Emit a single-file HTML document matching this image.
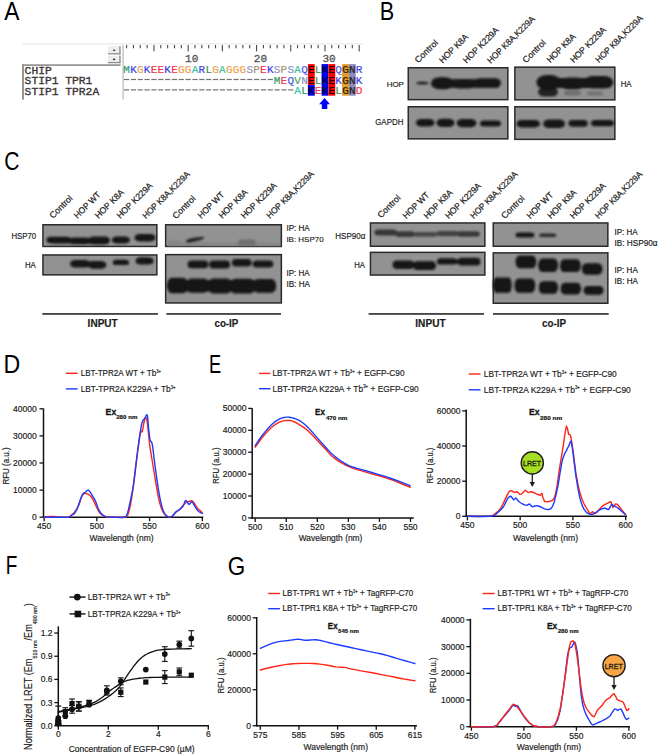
<!DOCTYPE html>
<html><head><meta charset="utf-8"><style>
html,body{margin:0;padding:0;background:#fff;}
svg{display:block;}
svg text{font-family:"Liberation Sans", sans-serif;}
</style></head><body>
<svg width="660" height="756" viewBox="0 0 660 756">
<defs><filter id="bl" x="-20%" y="-50%" width="140%" height="200%"><feGaussianBlur stdDeviation="0.9"/></filter></defs>
<rect width="660" height="756" fill="#fff"/>
<g transform="matrix(0.8754,0,0,0.9889,4.200,20.200)"><text x="0" y="0" font-size="26" fill="#000"  >A</text></g>
<rect x="22.00" y="43.40" width="341.00" height="1.00" fill="#e4e4e4" />
<rect x="108.00" y="46.20" width="12.50" height="8.20" fill="#ededed" />
<rect x="119.30" y="46.20" width="1.30" height="8.20" fill="#8a8a8a" />
<rect x="108.00" y="53.20" width="12.50" height="1.20" fill="#8a8a8a" />
<ellipse cx="114.1" cy="50.30" rx="1.3" ry="0.8" fill="#333"/>
<rect x="108.00" y="55.60" width="12.50" height="7.60" fill="#ededed" />
<rect x="119.30" y="55.60" width="1.30" height="7.60" fill="#8a8a8a" />
<rect x="108.00" y="62.00" width="12.50" height="1.20" fill="#8a8a8a" />
<ellipse cx="114.1" cy="59.40" rx="1.3" ry="0.8" fill="#333"/>
<rect x="22.10" y="64.30" width="98.50" height="1.60" fill="#8c8c8c" />
<rect x="22.10" y="64.30" width="1.80" height="35.40" fill="#8c8c8c" />
<rect x="122.40" y="45.00" width="1.40" height="54.50" fill="#c4c4c4" />
<text x="27.99" y="73.80" font-size="11.3" fill="#3a3434" text-anchor="middle" style="font-family:'Liberation Mono', monospace" stroke="#3a3434" stroke-width="0.35">C</text>
<text x="34.77" y="73.80" font-size="11.3" fill="#3a3434" text-anchor="middle" style="font-family:'Liberation Mono', monospace" stroke="#3a3434" stroke-width="0.35">H</text>
<text x="41.55" y="73.80" font-size="11.3" fill="#3a3434" text-anchor="middle" style="font-family:'Liberation Mono', monospace" stroke="#3a3434" stroke-width="0.35">I</text>
<text x="48.33" y="73.80" font-size="11.3" fill="#3a3434" text-anchor="middle" style="font-family:'Liberation Mono', monospace" stroke="#3a3434" stroke-width="0.35">P</text>
<text x="27.99" y="84.30" font-size="11.3" fill="#3a3434" text-anchor="middle" style="font-family:'Liberation Mono', monospace" stroke="#3a3434" stroke-width="0.35">S</text>
<text x="34.77" y="84.30" font-size="11.3" fill="#3a3434" text-anchor="middle" style="font-family:'Liberation Mono', monospace" stroke="#3a3434" stroke-width="0.35">T</text>
<text x="41.55" y="84.30" font-size="11.3" fill="#3a3434" text-anchor="middle" style="font-family:'Liberation Mono', monospace" stroke="#3a3434" stroke-width="0.35">I</text>
<text x="48.33" y="84.30" font-size="11.3" fill="#3a3434" text-anchor="middle" style="font-family:'Liberation Mono', monospace" stroke="#3a3434" stroke-width="0.35">P</text>
<text x="55.11" y="84.30" font-size="11.3" fill="#3a3434" text-anchor="middle" style="font-family:'Liberation Mono', monospace" stroke="#3a3434" stroke-width="0.35">1</text>
<text x="68.67" y="84.30" font-size="11.3" fill="#3a3434" text-anchor="middle" style="font-family:'Liberation Mono', monospace" stroke="#3a3434" stroke-width="0.35">T</text>
<text x="75.45" y="84.30" font-size="11.3" fill="#3a3434" text-anchor="middle" style="font-family:'Liberation Mono', monospace" stroke="#3a3434" stroke-width="0.35">P</text>
<text x="82.23" y="84.30" font-size="11.3" fill="#3a3434" text-anchor="middle" style="font-family:'Liberation Mono', monospace" stroke="#3a3434" stroke-width="0.35">R</text>
<text x="89.01" y="84.30" font-size="11.3" fill="#3a3434" text-anchor="middle" style="font-family:'Liberation Mono', monospace" stroke="#3a3434" stroke-width="0.35">1</text>
<text x="27.99" y="94.60" font-size="11.3" fill="#3a3434" text-anchor="middle" style="font-family:'Liberation Mono', monospace" stroke="#3a3434" stroke-width="0.35">S</text>
<text x="34.77" y="94.60" font-size="11.3" fill="#3a3434" text-anchor="middle" style="font-family:'Liberation Mono', monospace" stroke="#3a3434" stroke-width="0.35">T</text>
<text x="41.55" y="94.60" font-size="11.3" fill="#3a3434" text-anchor="middle" style="font-family:'Liberation Mono', monospace" stroke="#3a3434" stroke-width="0.35">I</text>
<text x="48.33" y="94.60" font-size="11.3" fill="#3a3434" text-anchor="middle" style="font-family:'Liberation Mono', monospace" stroke="#3a3434" stroke-width="0.35">P</text>
<text x="55.11" y="94.60" font-size="11.3" fill="#3a3434" text-anchor="middle" style="font-family:'Liberation Mono', monospace" stroke="#3a3434" stroke-width="0.35">1</text>
<text x="68.67" y="94.60" font-size="11.3" fill="#3a3434" text-anchor="middle" style="font-family:'Liberation Mono', monospace" stroke="#3a3434" stroke-width="0.35">T</text>
<text x="75.45" y="94.60" font-size="11.3" fill="#3a3434" text-anchor="middle" style="font-family:'Liberation Mono', monospace" stroke="#3a3434" stroke-width="0.35">P</text>
<text x="82.23" y="94.60" font-size="11.3" fill="#3a3434" text-anchor="middle" style="font-family:'Liberation Mono', monospace" stroke="#3a3434" stroke-width="0.35">R</text>
<text x="89.01" y="94.60" font-size="11.3" fill="#3a3434" text-anchor="middle" style="font-family:'Liberation Mono', monospace" stroke="#3a3434" stroke-width="0.35">2</text>
<text x="95.79" y="94.60" font-size="11.3" fill="#3a3434" text-anchor="middle" style="font-family:'Liberation Mono', monospace" stroke="#3a3434" stroke-width="0.35">A</text>
<rect x="126.05" y="45.00" width="1.10" height="3.30" fill="#4a4a4a" />
<rect x="132.89" y="45.00" width="1.10" height="3.30" fill="#4a4a4a" />
<rect x="139.73" y="45.00" width="1.10" height="3.30" fill="#4a4a4a" />
<rect x="146.57" y="45.00" width="1.10" height="3.30" fill="#4a4a4a" />
<rect x="153.41" y="45.00" width="1.10" height="6.40" fill="#4a4a4a" />
<rect x="160.25" y="45.00" width="1.10" height="3.30" fill="#4a4a4a" />
<rect x="167.09" y="45.00" width="1.10" height="3.30" fill="#4a4a4a" />
<rect x="173.93" y="45.00" width="1.10" height="3.30" fill="#4a4a4a" />
<rect x="180.77" y="45.00" width="1.10" height="3.30" fill="#4a4a4a" />
<rect x="187.61" y="45.00" width="1.10" height="6.40" fill="#4a4a4a" />
<rect x="194.45" y="45.00" width="1.10" height="3.30" fill="#4a4a4a" />
<rect x="201.29" y="45.00" width="1.10" height="3.30" fill="#4a4a4a" />
<rect x="208.13" y="45.00" width="1.10" height="3.30" fill="#4a4a4a" />
<rect x="214.97" y="45.00" width="1.10" height="3.30" fill="#4a4a4a" />
<rect x="221.81" y="45.00" width="1.10" height="6.40" fill="#4a4a4a" />
<rect x="228.65" y="45.00" width="1.10" height="3.30" fill="#4a4a4a" />
<rect x="235.49" y="45.00" width="1.10" height="3.30" fill="#4a4a4a" />
<rect x="242.33" y="45.00" width="1.10" height="3.30" fill="#4a4a4a" />
<rect x="249.17" y="45.00" width="1.10" height="3.30" fill="#4a4a4a" />
<rect x="256.01" y="45.00" width="1.10" height="6.40" fill="#4a4a4a" />
<rect x="262.85" y="45.00" width="1.10" height="3.30" fill="#4a4a4a" />
<rect x="269.69" y="45.00" width="1.10" height="3.30" fill="#4a4a4a" />
<rect x="276.53" y="45.00" width="1.10" height="3.30" fill="#4a4a4a" />
<rect x="283.37" y="45.00" width="1.10" height="3.30" fill="#4a4a4a" />
<rect x="290.21" y="45.00" width="1.10" height="6.40" fill="#4a4a4a" />
<rect x="297.05" y="45.00" width="1.10" height="3.30" fill="#4a4a4a" />
<rect x="303.89" y="45.00" width="1.10" height="3.30" fill="#4a4a4a" />
<rect x="310.73" y="45.00" width="1.10" height="3.30" fill="#4a4a4a" />
<rect x="317.57" y="45.00" width="1.10" height="3.30" fill="#4a4a4a" />
<rect x="324.41" y="45.00" width="1.10" height="6.40" fill="#4a4a4a" />
<rect x="331.25" y="45.00" width="1.10" height="3.30" fill="#4a4a4a" />
<rect x="338.09" y="45.00" width="1.10" height="3.30" fill="#4a4a4a" />
<rect x="344.93" y="45.00" width="1.10" height="3.30" fill="#4a4a4a" />
<rect x="351.77" y="45.00" width="1.10" height="3.30" fill="#4a4a4a" />
<rect x="358.61" y="45.00" width="1.10" height="6.40" fill="#4a4a4a" />
<text x="191.70" y="61.50" font-size="11.0" fill="#555" text-anchor="middle" style="font-family:'Liberation Mono', monospace" stroke="#555" stroke-width="0.3">10</text>
<text x="260.40" y="61.50" font-size="11.0" fill="#555" text-anchor="middle" style="font-family:'Liberation Mono', monospace" stroke="#555" stroke-width="0.3">20</text>
<text x="329.10" y="61.50" font-size="11.0" fill="#555" text-anchor="middle" style="font-family:'Liberation Mono', monospace" stroke="#555" stroke-width="0.3">30</text>
<rect x="307.88" y="64.10" width="6.84" height="20.80" fill="#ff0000" />
<rect x="307.88" y="84.90" width="6.84" height="10.80" fill="#0000ee" />
<rect x="321.56" y="64.10" width="6.84" height="31.60" fill="#0000ee" />
<rect x="328.40" y="64.10" width="6.84" height="31.60" fill="#ff0000" />
<rect x="342.08" y="64.10" width="6.84" height="31.60" fill="#e89c22" />
<rect x="348.92" y="64.10" width="6.84" height="31.60" fill="#8a8ac6" />
<text x="126.60" y="73.20" font-size="11.0" fill="#2f9a6a" text-anchor="middle" style="font-family:'Liberation Mono', monospace" stroke="#2f9a6a" stroke-width="0.2">M</text>
<text x="133.44" y="73.20" font-size="11.0" fill="#3a3ae8" text-anchor="middle" style="font-family:'Liberation Mono', monospace" stroke="#3a3ae8" stroke-width="0.2">K</text>
<text x="140.28" y="73.20" font-size="11.0" fill="#f0a050" text-anchor="middle" style="font-family:'Liberation Mono', monospace" stroke="#f0a050" stroke-width="0.2">G</text>
<text x="147.12" y="73.20" font-size="11.0" fill="#3a3ae8" text-anchor="middle" style="font-family:'Liberation Mono', monospace" stroke="#3a3ae8" stroke-width="0.2">K</text>
<text x="153.96" y="73.20" font-size="11.0" fill="#f2384c" text-anchor="middle" style="font-family:'Liberation Mono', monospace" stroke="#f2384c" stroke-width="0.2">E</text>
<text x="160.80" y="73.20" font-size="11.0" fill="#f2384c" text-anchor="middle" style="font-family:'Liberation Mono', monospace" stroke="#f2384c" stroke-width="0.2">E</text>
<text x="167.64" y="73.20" font-size="11.0" fill="#3a3ae8" text-anchor="middle" style="font-family:'Liberation Mono', monospace" stroke="#3a3ae8" stroke-width="0.2">K</text>
<text x="174.48" y="73.20" font-size="11.0" fill="#f2384c" text-anchor="middle" style="font-family:'Liberation Mono', monospace" stroke="#f2384c" stroke-width="0.2">E</text>
<text x="181.32" y="73.20" font-size="11.0" fill="#f0a050" text-anchor="middle" style="font-family:'Liberation Mono', monospace" stroke="#f0a050" stroke-width="0.2">G</text>
<text x="188.16" y="73.20" font-size="11.0" fill="#f0a050" text-anchor="middle" style="font-family:'Liberation Mono', monospace" stroke="#f0a050" stroke-width="0.2">G</text>
<text x="195.00" y="73.20" font-size="11.0" fill="#35c4a0" text-anchor="middle" style="font-family:'Liberation Mono', monospace" stroke="#35c4a0" stroke-width="0.2">A</text>
<text x="201.84" y="73.20" font-size="11.0" fill="#4646e6" text-anchor="middle" style="font-family:'Liberation Mono', monospace" stroke="#4646e6" stroke-width="0.2">R</text>
<text x="208.68" y="73.20" font-size="11.0" fill="#3c9650" text-anchor="middle" style="font-family:'Liberation Mono', monospace" stroke="#3c9650" stroke-width="0.2">L</text>
<text x="215.52" y="73.20" font-size="11.0" fill="#f0a050" text-anchor="middle" style="font-family:'Liberation Mono', monospace" stroke="#f0a050" stroke-width="0.2">G</text>
<text x="222.36" y="73.20" font-size="11.0" fill="#35c4a0" text-anchor="middle" style="font-family:'Liberation Mono', monospace" stroke="#35c4a0" stroke-width="0.2">A</text>
<text x="229.20" y="73.20" font-size="11.0" fill="#f0a050" text-anchor="middle" style="font-family:'Liberation Mono', monospace" stroke="#f0a050" stroke-width="0.2">G</text>
<text x="236.04" y="73.20" font-size="11.0" fill="#f0a050" text-anchor="middle" style="font-family:'Liberation Mono', monospace" stroke="#f0a050" stroke-width="0.2">G</text>
<text x="242.88" y="73.20" font-size="11.0" fill="#f0a050" text-anchor="middle" style="font-family:'Liberation Mono', monospace" stroke="#f0a050" stroke-width="0.2">G</text>
<text x="249.72" y="73.20" font-size="11.0" fill="#8a96c8" text-anchor="middle" style="font-family:'Liberation Mono', monospace" stroke="#8a96c8" stroke-width="0.2">S</text>
<text x="256.56" y="73.20" font-size="11.0" fill="#a89272" text-anchor="middle" style="font-family:'Liberation Mono', monospace" stroke="#a89272" stroke-width="0.2">P</text>
<text x="263.40" y="73.20" font-size="11.0" fill="#f2384c" text-anchor="middle" style="font-family:'Liberation Mono', monospace" stroke="#f2384c" stroke-width="0.2">E</text>
<text x="270.24" y="73.20" font-size="11.0" fill="#3a3ae8" text-anchor="middle" style="font-family:'Liberation Mono', monospace" stroke="#3a3ae8" stroke-width="0.2">K</text>
<text x="277.08" y="73.20" font-size="11.0" fill="#8a96c8" text-anchor="middle" style="font-family:'Liberation Mono', monospace" stroke="#8a96c8" stroke-width="0.2">S</text>
<text x="283.92" y="73.20" font-size="11.0" fill="#a89272" text-anchor="middle" style="font-family:'Liberation Mono', monospace" stroke="#a89272" stroke-width="0.2">P</text>
<text x="290.76" y="73.20" font-size="11.0" fill="#8a96c8" text-anchor="middle" style="font-family:'Liberation Mono', monospace" stroke="#8a96c8" stroke-width="0.2">S</text>
<text x="297.60" y="73.20" font-size="11.0" fill="#35c4a0" text-anchor="middle" style="font-family:'Liberation Mono', monospace" stroke="#35c4a0" stroke-width="0.2">A</text>
<text x="304.44" y="73.20" font-size="11.0" fill="#4a5ae0" text-anchor="middle" style="font-family:'Liberation Mono', monospace" stroke="#4a5ae0" stroke-width="0.2">Q</text>
<text x="311.28" y="73.20" font-size="11.0" fill="#1a0000" text-anchor="middle" style="font-family:'Liberation Mono', monospace" stroke="#1a0000" stroke-width="0.2">E</text>
<text x="318.12" y="73.20" font-size="11.0" fill="#3c9650" text-anchor="middle" style="font-family:'Liberation Mono', monospace" stroke="#3c9650" stroke-width="0.2">L</text>
<text x="324.96" y="73.20" font-size="11.0" fill="#00002a" text-anchor="middle" style="font-family:'Liberation Mono', monospace" stroke="#00002a" stroke-width="0.2">K</text>
<text x="331.80" y="73.20" font-size="11.0" fill="#1a0000" text-anchor="middle" style="font-family:'Liberation Mono', monospace" stroke="#1a0000" stroke-width="0.2">E</text>
<text x="338.64" y="73.20" font-size="11.0" fill="#4a5ae0" text-anchor="middle" style="font-family:'Liberation Mono', monospace" stroke="#4a5ae0" stroke-width="0.2">Q</text>
<text x="345.48" y="73.20" font-size="11.0" fill="#2a2010" text-anchor="middle" style="font-family:'Liberation Mono', monospace" stroke="#2a2010" stroke-width="0.2">G</text>
<text x="352.32" y="73.20" font-size="11.0" fill="#2a2010" text-anchor="middle" style="font-family:'Liberation Mono', monospace" stroke="#2a2010" stroke-width="0.2">N</text>
<text x="359.16" y="73.20" font-size="11.0" fill="#4646e6" text-anchor="middle" style="font-family:'Liberation Mono', monospace" stroke="#4646e6" stroke-width="0.2">R</text>
<rect x="124.00" y="78.90" width="5.20" height="1.20" fill="#727272" />
<rect x="130.84" y="78.90" width="5.20" height="1.20" fill="#727272" />
<rect x="137.68" y="78.90" width="5.20" height="1.20" fill="#727272" />
<rect x="144.52" y="78.90" width="5.20" height="1.20" fill="#727272" />
<rect x="151.36" y="78.90" width="5.20" height="1.20" fill="#727272" />
<rect x="158.20" y="78.90" width="5.20" height="1.20" fill="#727272" />
<rect x="165.04" y="78.90" width="5.20" height="1.20" fill="#727272" />
<rect x="171.88" y="78.90" width="5.20" height="1.20" fill="#727272" />
<rect x="178.72" y="78.90" width="5.20" height="1.20" fill="#727272" />
<rect x="185.56" y="78.90" width="5.20" height="1.20" fill="#727272" />
<rect x="192.40" y="78.90" width="5.20" height="1.20" fill="#727272" />
<rect x="199.24" y="78.90" width="5.20" height="1.20" fill="#727272" />
<rect x="206.08" y="78.90" width="5.20" height="1.20" fill="#727272" />
<rect x="212.92" y="78.90" width="5.20" height="1.20" fill="#727272" />
<rect x="219.76" y="78.90" width="5.20" height="1.20" fill="#727272" />
<rect x="226.60" y="78.90" width="5.20" height="1.20" fill="#727272" />
<rect x="233.44" y="78.90" width="5.20" height="1.20" fill="#727272" />
<rect x="240.28" y="78.90" width="5.20" height="1.20" fill="#727272" />
<rect x="247.12" y="78.90" width="5.20" height="1.20" fill="#727272" />
<rect x="253.96" y="78.90" width="5.20" height="1.20" fill="#727272" />
<rect x="260.80" y="78.90" width="5.20" height="1.20" fill="#727272" />
<rect x="267.64" y="78.90" width="5.20" height="1.20" fill="#727272" />
<text x="277.08" y="83.60" font-size="11.0" fill="#2f9a6a" text-anchor="middle" style="font-family:'Liberation Mono', monospace" stroke="#2f9a6a" stroke-width="0.2">M</text>
<text x="283.92" y="83.60" font-size="11.0" fill="#f2384c" text-anchor="middle" style="font-family:'Liberation Mono', monospace" stroke="#f2384c" stroke-width="0.2">E</text>
<text x="290.76" y="83.60" font-size="11.0" fill="#4a5ae0" text-anchor="middle" style="font-family:'Liberation Mono', monospace" stroke="#4a5ae0" stroke-width="0.2">Q</text>
<text x="297.60" y="83.60" font-size="11.0" fill="#4f9f5f" text-anchor="middle" style="font-family:'Liberation Mono', monospace" stroke="#4f9f5f" stroke-width="0.2">V</text>
<text x="304.44" y="83.60" font-size="11.0" fill="#8a92c0" text-anchor="middle" style="font-family:'Liberation Mono', monospace" stroke="#8a92c0" stroke-width="0.2">N</text>
<text x="311.28" y="83.60" font-size="11.0" fill="#1a0000" text-anchor="middle" style="font-family:'Liberation Mono', monospace" stroke="#1a0000" stroke-width="0.2">E</text>
<text x="318.12" y="83.60" font-size="11.0" fill="#3c9650" text-anchor="middle" style="font-family:'Liberation Mono', monospace" stroke="#3c9650" stroke-width="0.2">L</text>
<text x="324.96" y="83.60" font-size="11.0" fill="#00002a" text-anchor="middle" style="font-family:'Liberation Mono', monospace" stroke="#00002a" stroke-width="0.2">K</text>
<text x="331.80" y="83.60" font-size="11.0" fill="#1a0000" text-anchor="middle" style="font-family:'Liberation Mono', monospace" stroke="#1a0000" stroke-width="0.2">E</text>
<text x="338.64" y="83.60" font-size="11.0" fill="#3a3ae8" text-anchor="middle" style="font-family:'Liberation Mono', monospace" stroke="#3a3ae8" stroke-width="0.2">K</text>
<text x="345.48" y="83.60" font-size="11.0" fill="#2a2010" text-anchor="middle" style="font-family:'Liberation Mono', monospace" stroke="#2a2010" stroke-width="0.2">G</text>
<text x="352.32" y="83.60" font-size="11.0" fill="#2a2010" text-anchor="middle" style="font-family:'Liberation Mono', monospace" stroke="#2a2010" stroke-width="0.2">N</text>
<text x="359.16" y="83.60" font-size="11.0" fill="#3a3ae8" text-anchor="middle" style="font-family:'Liberation Mono', monospace" stroke="#3a3ae8" stroke-width="0.2">K</text>
<rect x="124.00" y="89.30" width="5.20" height="1.20" fill="#727272" />
<rect x="130.84" y="89.30" width="5.20" height="1.20" fill="#727272" />
<rect x="137.68" y="89.30" width="5.20" height="1.20" fill="#727272" />
<rect x="144.52" y="89.30" width="5.20" height="1.20" fill="#727272" />
<rect x="151.36" y="89.30" width="5.20" height="1.20" fill="#727272" />
<rect x="158.20" y="89.30" width="5.20" height="1.20" fill="#727272" />
<rect x="165.04" y="89.30" width="5.20" height="1.20" fill="#727272" />
<rect x="171.88" y="89.30" width="5.20" height="1.20" fill="#727272" />
<rect x="178.72" y="89.30" width="5.20" height="1.20" fill="#727272" />
<rect x="185.56" y="89.30" width="5.20" height="1.20" fill="#727272" />
<rect x="192.40" y="89.30" width="5.20" height="1.20" fill="#727272" />
<rect x="199.24" y="89.30" width="5.20" height="1.20" fill="#727272" />
<rect x="206.08" y="89.30" width="5.20" height="1.20" fill="#727272" />
<rect x="212.92" y="89.30" width="5.20" height="1.20" fill="#727272" />
<rect x="219.76" y="89.30" width="5.20" height="1.20" fill="#727272" />
<rect x="226.60" y="89.30" width="5.20" height="1.20" fill="#727272" />
<rect x="233.44" y="89.30" width="5.20" height="1.20" fill="#727272" />
<rect x="240.28" y="89.30" width="5.20" height="1.20" fill="#727272" />
<rect x="247.12" y="89.30" width="5.20" height="1.20" fill="#727272" />
<rect x="253.96" y="89.30" width="5.20" height="1.20" fill="#727272" />
<rect x="260.80" y="89.30" width="5.20" height="1.20" fill="#727272" />
<rect x="267.64" y="89.30" width="5.20" height="1.20" fill="#727272" />
<rect x="274.48" y="89.30" width="5.20" height="1.20" fill="#727272" />
<rect x="281.32" y="89.30" width="5.20" height="1.20" fill="#727272" />
<rect x="288.16" y="89.30" width="5.20" height="1.20" fill="#727272" />
<text x="297.60" y="94.00" font-size="11.0" fill="#35c4a0" text-anchor="middle" style="font-family:'Liberation Mono', monospace" stroke="#35c4a0" stroke-width="0.2">A</text>
<text x="304.44" y="94.00" font-size="11.0" fill="#3c9650" text-anchor="middle" style="font-family:'Liberation Mono', monospace" stroke="#3c9650" stroke-width="0.2">L</text>
<text x="311.28" y="94.00" font-size="11.0" fill="#00002a" text-anchor="middle" style="font-family:'Liberation Mono', monospace" stroke="#00002a" stroke-width="0.2">K</text>
<text x="318.12" y="94.00" font-size="11.0" fill="#f2384c" text-anchor="middle" style="font-family:'Liberation Mono', monospace" stroke="#f2384c" stroke-width="0.2">E</text>
<text x="324.96" y="94.00" font-size="11.0" fill="#00002a" text-anchor="middle" style="font-family:'Liberation Mono', monospace" stroke="#00002a" stroke-width="0.2">K</text>
<text x="331.80" y="94.00" font-size="11.0" fill="#1a0000" text-anchor="middle" style="font-family:'Liberation Mono', monospace" stroke="#1a0000" stroke-width="0.2">E</text>
<text x="338.64" y="94.00" font-size="11.0" fill="#3c9650" text-anchor="middle" style="font-family:'Liberation Mono', monospace" stroke="#3c9650" stroke-width="0.2">L</text>
<text x="345.48" y="94.00" font-size="11.0" fill="#2a2010" text-anchor="middle" style="font-family:'Liberation Mono', monospace" stroke="#2a2010" stroke-width="0.2">G</text>
<text x="352.32" y="94.00" font-size="11.0" fill="#2a2010" text-anchor="middle" style="font-family:'Liberation Mono', monospace" stroke="#2a2010" stroke-width="0.2">N</text>
<text x="359.16" y="94.00" font-size="11.0" fill="#f2384c" text-anchor="middle" style="font-family:'Liberation Mono', monospace" stroke="#f2384c" stroke-width="0.2">D</text>
<polygon points="324.5,97.9 330,104.2 327.3,104.2 327.3,108.9 321.8,108.9 321.8,104.2 319.1,104.2" fill="#0000ff"/>
<g transform="matrix(0.8357,0,0,0.9722,379.629,19.900)"><text x="0" y="0" font-size="26" fill="#000"  >B</text></g>
<g transform="translate(418.500,63.400) rotate(-45)"><g transform="matrix(1.0090,0,0,1.0000,-0.252,0.000)"><text x="0" y="0" font-size="8.8" fill="#1c1c1c" stroke="#1c1c1c" stroke-width="0.22">Control</text></g></g>
<g transform="translate(443.100,63.300) rotate(-45)"><g transform="matrix(0.9733,0,0,1.0000,-0.487,0.000)"><text x="0" y="0" font-size="8.8" fill="#1c1c1c" stroke="#1c1c1c" stroke-width="0.22">HOP K8A</text></g></g>
<g transform="translate(466.900,63.300) rotate(-45)"><g transform="matrix(0.9735,0,0,1.0000,-0.487,0.000)"><text x="0" y="0" font-size="8.8" fill="#1c1c1c" stroke="#1c1c1c" stroke-width="0.22">HOP K229A</text></g></g>
<g transform="translate(491.200,63.600) rotate(-45)"><g transform="matrix(0.9414,0,0,1.0000,-0.471,0.000)"><text x="0" y="0" font-size="8.8" fill="#1c1c1c" stroke="#1c1c1c" stroke-width="0.22">HOP K8A,K229A</text></g></g>
<g transform="translate(526.300,63.400) rotate(-45)"><g transform="matrix(1.0090,0,0,1.0000,-0.252,0.000)"><text x="0" y="0" font-size="8.8" fill="#1c1c1c" stroke="#1c1c1c" stroke-width="0.22">Control</text></g></g>
<g transform="translate(550.500,62.900) rotate(-45)"><g transform="matrix(0.9733,0,0,1.0000,-0.487,0.000)"><text x="0" y="0" font-size="8.8" fill="#1c1c1c" stroke="#1c1c1c" stroke-width="0.22">HOP K8A</text></g></g>
<g transform="translate(574.100,62.900) rotate(-45)"><g transform="matrix(0.9735,0,0,1.0000,-0.487,0.000)"><text x="0" y="0" font-size="8.8" fill="#1c1c1c" stroke="#1c1c1c" stroke-width="0.22">HOP K229A</text></g></g>
<g transform="translate(599.300,62.900) rotate(-45)"><g transform="matrix(0.9414,0,0,1.0000,-0.471,0.000)"><text x="0" y="0" font-size="8.8" fill="#1c1c1c" stroke="#1c1c1c" stroke-width="0.22">HOP K8A,K229A</text></g></g>
<rect x="407.50" y="67.00" width="101.10" height="33.40" fill="#2a2a2a" />
<rect x="409.00" y="68.50" width="98.10" height="30.40" fill="#929292" />
<g filter="url(#bl)">
<rect x="416.00" y="81.60" width="12.70" height="3.00" rx="6.00" ry="1.50" fill="#202020"/>
<rect x="433.00" y="79.30" width="67.00" height="8.50" rx="3.00" ry="4.25" fill="#141414"/>
<rect x="431.00" y="77.30" width="22.50" height="12.00" rx="8.40" ry="6.00" fill="#141414"/>
<rect x="452.50" y="79.00" width="22.50" height="9.60" rx="6.72" ry="4.80" fill="#141414"/>
<rect x="474.00" y="78.20" width="27.00" height="9.30" rx="6.51" ry="4.65" fill="#141414"/>
</g>
<rect x="407.50" y="106.00" width="101.10" height="33.60" fill="#2a2a2a" />
<rect x="409.00" y="107.50" width="98.10" height="30.60" fill="#929292" />
<g filter="url(#bl)">
<rect x="416.00" y="119.00" width="18.50" height="7.60" rx="5.32" ry="3.80" fill="#141414"/>
<rect x="436.40" y="118.70" width="18.10" height="8.30" rx="5.81" ry="4.15" fill="#141414"/>
<rect x="456.70" y="119.00" width="19.70" height="8.30" rx="5.81" ry="4.15" fill="#141414"/>
<rect x="480.00" y="120.60" width="21.00" height="6.00" rx="4.20" ry="3.00" fill="#141414"/>
</g>
<rect x="514.10" y="66.40" width="101.50" height="34.20" fill="#2a2a2a" />
<rect x="515.60" y="67.90" width="98.50" height="31.20" fill="#929292" />
<g filter="url(#bl)">
<rect x="538.00" y="87.50" width="20.00" height="9.00" rx="6.30" ry="4.50" fill="#222222"/>
<rect x="540.00" y="78.00" width="71.00" height="10.00" rx="3.00" ry="5.00" fill="#141414"/>
<rect x="536.40" y="75.00" width="24.60" height="15.00" rx="10.50" ry="7.50" fill="#141414"/>
<rect x="560.00" y="77.50" width="25.00" height="12.00" rx="8.40" ry="6.00" fill="#141414"/>
<rect x="584.00" y="76.00" width="29.20" height="12.50" rx="8.75" ry="6.25" fill="#141414"/>
<rect x="564.00" y="90.80" width="17.00" height="4.80" rx="3.36" ry="2.40" fill="#6e6e6e"/>
<rect x="587.00" y="91.20" width="16.00" height="4.40" rx="3.08" ry="2.20" fill="#727272"/>
</g>
<rect x="514.10" y="106.00" width="101.50" height="34.10" fill="#2a2a2a" />
<rect x="515.60" y="107.50" width="98.50" height="31.10" fill="#929292" />
<g filter="url(#bl)">
<rect x="516.50" y="120.10" width="23.50" height="7.30" rx="5.11" ry="3.65" fill="#141414"/>
<rect x="543.20" y="119.40" width="21.80" height="8.50" rx="5.95" ry="4.25" fill="#141414"/>
<rect x="568.40" y="120.10" width="19.40" height="6.60" rx="4.62" ry="3.30" fill="#141414"/>
<rect x="591.00" y="120.10" width="23.00" height="6.10" rx="4.27" ry="3.05" fill="#141414"/>
</g>
<g transform="matrix(0.9296,0,0,0.9154,386.635,86.771)"><text x="0" y="0" font-size="8.6" fill="#1c1c1c" stroke="#1c1c1c" stroke-width="0.18">HOP</text></g>
<g transform="matrix(0.9244,0,0,0.9462,375.169,124.763)"><text x="0" y="0" font-size="8.6" fill="#1c1c1c" stroke="#1c1c1c" stroke-width="0.18">GAPDH</text></g>
<g transform="matrix(0.9130,0,0,0.9917,620.643,86.900)"><text x="0" y="0" font-size="8.6" fill="#1c1c1c" stroke="#1c1c1c" stroke-width="0.18">HA</text></g>
<g transform="matrix(0.8121,0,0,1.0000,4.285,169.550)"><text x="0" y="0" font-size="26" fill="#000"  >C</text></g>
<g transform="translate(53.100,218.900) rotate(-45)"><g transform="matrix(1.0090,0,0,1.0000,-0.252,0.000)"><text x="0" y="0" font-size="8.8" fill="#1c1c1c" stroke="#1c1c1c" stroke-width="0.22">Control</text></g></g>
<g transform="translate(77.900,218.700) rotate(-45)"><g transform="matrix(0.9565,0,0,1.0000,-0.478,0.000)"><text x="0" y="0" font-size="8.8" fill="#1c1c1c" stroke="#1c1c1c" stroke-width="0.22">HOP WT</text></g></g>
<g transform="translate(98.800,218.700) rotate(-45)"><g transform="matrix(0.9733,0,0,1.0000,-0.487,0.000)"><text x="0" y="0" font-size="8.8" fill="#1c1c1c" stroke="#1c1c1c" stroke-width="0.22">HOP K8A</text></g></g>
<g transform="translate(120.600,218.700) rotate(-45)"><g transform="matrix(0.9735,0,0,1.0000,-0.487,0.000)"><text x="0" y="0" font-size="8.8" fill="#1c1c1c" stroke="#1c1c1c" stroke-width="0.22">HOP K229A</text></g></g>
<g transform="translate(146.300,219.000) rotate(-45)"><g transform="matrix(0.9414,0,0,1.0000,-0.471,0.000)"><text x="0" y="0" font-size="8.8" fill="#1c1c1c" stroke="#1c1c1c" stroke-width="0.22">HOP K8A,K229A</text></g></g>
<g transform="translate(176.100,219.200) rotate(-45)"><g transform="matrix(1.0090,0,0,1.0000,-0.252,0.000)"><text x="0" y="0" font-size="8.8" fill="#1c1c1c" stroke="#1c1c1c" stroke-width="0.22">Control</text></g></g>
<g transform="translate(201.500,218.700) rotate(-45)"><g transform="matrix(0.9565,0,0,1.0000,-0.478,0.000)"><text x="0" y="0" font-size="8.8" fill="#1c1c1c" stroke="#1c1c1c" stroke-width="0.22">HOP WT</text></g></g>
<g transform="translate(222.600,218.700) rotate(-45)"><g transform="matrix(0.9733,0,0,1.0000,-0.487,0.000)"><text x="0" y="0" font-size="8.8" fill="#1c1c1c" stroke="#1c1c1c" stroke-width="0.22">HOP K8A</text></g></g>
<g transform="translate(244.800,218.700) rotate(-45)"><g transform="matrix(0.9735,0,0,1.0000,-0.487,0.000)"><text x="0" y="0" font-size="8.8" fill="#1c1c1c" stroke="#1c1c1c" stroke-width="0.22">HOP K229A</text></g></g>
<g transform="translate(270.300,218.700) rotate(-45)"><g transform="matrix(0.9414,0,0,1.0000,-0.471,0.000)"><text x="0" y="0" font-size="8.8" fill="#1c1c1c" stroke="#1c1c1c" stroke-width="0.22">HOP K8A,K229A</text></g></g>
<g transform="translate(381.100,218.300) rotate(-45)"><g transform="matrix(1.0090,0,0,1.0000,-0.252,0.000)"><text x="0" y="0" font-size="8.8" fill="#1c1c1c" stroke="#1c1c1c" stroke-width="0.22">Control</text></g></g>
<g transform="translate(406.600,218.900) rotate(-45)"><g transform="matrix(0.9565,0,0,1.0000,-0.478,0.000)"><text x="0" y="0" font-size="8.8" fill="#1c1c1c" stroke="#1c1c1c" stroke-width="0.22">HOP WT</text></g></g>
<g transform="translate(427.500,218.900) rotate(-45)"><g transform="matrix(0.9733,0,0,1.0000,-0.487,0.000)"><text x="0" y="0" font-size="8.8" fill="#1c1c1c" stroke="#1c1c1c" stroke-width="0.22">HOP K8A</text></g></g>
<g transform="translate(449.100,218.900) rotate(-45)"><g transform="matrix(0.9735,0,0,1.0000,-0.487,0.000)"><text x="0" y="0" font-size="8.8" fill="#1c1c1c" stroke="#1c1c1c" stroke-width="0.22">HOP K229A</text></g></g>
<g transform="translate(474.100,218.900) rotate(-45)"><g transform="matrix(0.9414,0,0,1.0000,-0.471,0.000)"><text x="0" y="0" font-size="8.8" fill="#1c1c1c" stroke="#1c1c1c" stroke-width="0.22">HOP K8A,K229A</text></g></g>
<g transform="translate(505.000,219.100) rotate(-45)"><g transform="matrix(1.0090,0,0,1.0000,-0.252,0.000)"><text x="0" y="0" font-size="8.8" fill="#1c1c1c" stroke="#1c1c1c" stroke-width="0.22">Control</text></g></g>
<g transform="translate(530.500,218.900) rotate(-45)"><g transform="matrix(0.9565,0,0,1.0000,-0.478,0.000)"><text x="0" y="0" font-size="8.8" fill="#1c1c1c" stroke="#1c1c1c" stroke-width="0.22">HOP WT</text></g></g>
<g transform="translate(551.300,218.900) rotate(-45)"><g transform="matrix(0.9733,0,0,1.0000,-0.487,0.000)"><text x="0" y="0" font-size="8.8" fill="#1c1c1c" stroke="#1c1c1c" stroke-width="0.22">HOP K8A</text></g></g>
<g transform="translate(573.800,218.900) rotate(-45)"><g transform="matrix(0.9735,0,0,1.0000,-0.487,0.000)"><text x="0" y="0" font-size="8.8" fill="#1c1c1c" stroke="#1c1c1c" stroke-width="0.22">HOP K229A</text></g></g>
<g transform="translate(598.800,218.900) rotate(-45)"><g transform="matrix(0.9414,0,0,1.0000,-0.471,0.000)"><text x="0" y="0" font-size="8.8" fill="#1c1c1c" stroke="#1c1c1c" stroke-width="0.22">HOP K8A,K229A</text></g></g>
<rect x="42.20" y="224.00" width="115.40" height="23.20" fill="#2a2a2a" />
<rect x="43.70" y="225.50" width="112.40" height="20.20" fill="#929292" />
<g filter="url(#bl)">
<rect x="50.00" y="238.60" width="58.00" height="4.80" rx="3.00" ry="2.40" fill="#141414"/>
<rect x="46.40" y="236.80" width="24.60" height="6.50" rx="4.55" ry="3.25" fill="#141414"/>
<rect x="69.00" y="237.60" width="21.00" height="6.60" rx="4.62" ry="3.30" fill="#141414"/>
<rect x="88.00" y="236.40" width="22.00" height="8.10" rx="5.67" ry="4.05" fill="#141414"/>
<rect x="111.80" y="236.40" width="18.20" height="7.20" rx="5.04" ry="3.60" fill="#141414"/>
<rect x="134.50" y="234.00" width="21.00" height="7.40" rx="5.18" ry="3.70" fill="#141414"/>
</g>
<rect x="42.20" y="254.20" width="115.40" height="21.40" fill="#2a2a2a" />
<rect x="43.70" y="255.70" width="112.40" height="18.40" fill="#929292" />
<g filter="url(#bl)">
<rect x="74.00" y="261.60" width="29.00" height="5.40" rx="3.00" ry="2.70" fill="#141414"/>
<rect x="70.00" y="260.00" width="20.00" height="7.60" rx="5.32" ry="3.80" fill="#141414"/>
<rect x="88.00" y="261.00" width="18.40" height="7.80" rx="5.46" ry="3.90" fill="#141414"/>
<rect x="112.70" y="259.80" width="16.30" height="5.20" rx="3.64" ry="2.60" fill="#141414"/>
<rect x="135.50" y="257.30" width="18.10" height="7.20" rx="5.04" ry="3.60" fill="#141414"/>
</g>
<rect x="164.90" y="224.00" width="117.20" height="23.20" fill="#2a2a2a" />
<rect x="166.40" y="225.50" width="114.20" height="20.20" fill="#929292" />
<g filter="url(#bl)"><rect x="168" y="242.5" width="112" height="3.2" fill="#858585"/><ellipse cx="195" cy="239.6" rx="9.6" ry="2.1" transform="rotate(-12 195 239.6)" fill="#2e2e2e"/><ellipse cx="191" cy="240.6" rx="5" ry="1.8" transform="rotate(-12 191 240.6)" fill="#222"/>
<rect x="238.00" y="239.50" width="18.00" height="6.00" rx="4.20" ry="3.00" fill="#6e6e6e"/>
<rect x="167.00" y="240.00" width="13.00" height="5.50" rx="3.85" ry="2.75" fill="#858585"/>
</g>
<rect x="164.90" y="253.90" width="117.20" height="49.80" fill="#2a2a2a" />
<rect x="166.40" y="255.40" width="114.20" height="46.80" fill="#929292" />
<g filter="url(#bl)">
<rect x="187.60" y="260.40" width="20.70" height="7.90" rx="4.00" ry="3.95" fill="#141414"/>
<rect x="209.20" y="260.60" width="20.80" height="7.90" rx="4.00" ry="3.95" fill="#141414"/>
<rect x="231.90" y="259.00" width="19.70" height="7.50" rx="4.00" ry="3.75" fill="#141414"/>
<rect x="252.60" y="260.40" width="20.70" height="7.10" rx="4.00" ry="3.55" fill="#141414"/>
<rect x="170.00" y="280.00" width="103.00" height="11.50" rx="3.00" ry="5.75" fill="#141414"/>
<rect x="166.90" y="277.80" width="21.10" height="15.40" rx="5.00" ry="7.70" fill="#141414"/>
<rect x="186.00" y="278.50" width="23.00" height="14.30" rx="5.00" ry="7.15" fill="#141414"/>
<rect x="208.00" y="278.50" width="24.00" height="15.00" rx="5.00" ry="7.50" fill="#141414"/>
<rect x="230.00" y="278.80" width="25.00" height="14.80" rx="5.00" ry="7.40" fill="#141414"/>
<rect x="253.00" y="279.00" width="23.20" height="13.80" rx="5.00" ry="6.90" fill="#141414"/>
</g>
<rect x="369.70" y="222.20" width="115.90" height="24.80" fill="#2a2a2a" />
<rect x="371.20" y="223.70" width="112.90" height="21.80" fill="#929292" />
<g filter="url(#bl)">
<rect x="374.40" y="229.40" width="22.60" height="6.00" rx="4.20" ry="3.00" fill="#343434"/>
<rect x="395.00" y="231.20" width="20.00" height="5.80" rx="4.06" ry="2.90" fill="#383838"/>
<rect x="414.00" y="232.00" width="23.00" height="4.80" rx="3.36" ry="2.40" fill="#474747"/>
<rect x="436.00" y="231.00" width="23.00" height="5.20" rx="3.64" ry="2.60" fill="#424242"/>
<rect x="457.00" y="231.30" width="23.00" height="5.50" rx="3.85" ry="2.75" fill="#383838"/>
</g>
<rect x="369.70" y="251.60" width="115.90" height="24.20" fill="#2a2a2a" />
<rect x="371.20" y="253.10" width="112.90" height="21.20" fill="#929292" />
<g filter="url(#bl)">
<rect x="396.00" y="262.50" width="37.00" height="5.50" rx="3.00" ry="2.75" fill="#141414"/>
<rect x="440.00" y="259.50" width="38.00" height="4.30" rx="3.00" ry="2.15" fill="#141414"/>
<rect x="392.50" y="260.60" width="21.70" height="8.50" rx="4.00" ry="4.25" fill="#141414"/>
<rect x="413.00" y="261.20" width="23.00" height="8.80" rx="4.00" ry="4.40" fill="#141414"/>
<rect x="437.00" y="258.20" width="19.90" height="6.40" rx="3.50" ry="3.20" fill="#141414"/>
<rect x="457.80" y="257.80" width="22.70" height="7.80" rx="4.00" ry="3.90" fill="#141414"/>
</g>
<rect x="492.50" y="222.20" width="116.10" height="24.80" fill="#2a2a2a" />
<rect x="494.00" y="223.70" width="113.10" height="21.80" fill="#929292" />
<g filter="url(#bl)">
<rect x="515.50" y="232.40" width="18.90" height="5.00" rx="3.50" ry="2.50" fill="#141414"/>
<rect x="539.10" y="233.60" width="17.10" height="3.40" rx="2.38" ry="1.70" fill="#2a2a2a"/>
</g>
<rect x="492.50" y="252.10" width="116.10" height="51.90" fill="#2a2a2a" />
<rect x="494.00" y="253.60" width="113.10" height="48.90" fill="#929292" />
<g filter="url(#bl)">
<rect x="515.50" y="255.60" width="20.80" height="12.60" rx="4.00" ry="6.30" fill="#141414"/>
<rect x="538.20" y="258.50" width="19.80" height="13.50" rx="4.00" ry="6.75" fill="#141414"/>
<rect x="560.00" y="259.30" width="20.80" height="12.70" rx="4.00" ry="6.35" fill="#141414"/>
<rect x="581.80" y="263.30" width="20.80" height="11.50" rx="4.50" ry="5.75" fill="#141414"/>
<rect x="493.00" y="277.50" width="18.70" height="15.30" rx="3.00" ry="7.65" fill="#141414"/>
<rect x="514.50" y="278.40" width="20.80" height="14.40" rx="4.00" ry="7.20" fill="#141414"/>
<rect x="538.80" y="281.20" width="19.20" height="12.60" rx="4.00" ry="6.30" fill="#141414"/>
<rect x="560.50" y="282.80" width="20.50" height="11.70" rx="4.00" ry="5.85" fill="#141414"/>
<rect x="583.60" y="286.00" width="19.90" height="8.70" rx="4.00" ry="4.35" fill="#141414"/>
</g>
<g transform="matrix(0.9057,0,0,0.9462,11.447,238.663)"><text x="0" y="0" font-size="8.6" fill="#1c1c1c" stroke="#1c1c1c" stroke-width="0.18">HSP70</text></g>
<g transform="matrix(0.9130,0,0,1.0250,24.943,267.700)"><text x="0" y="0" font-size="8.6" fill="#1c1c1c" stroke="#1c1c1c" stroke-width="0.18">HA</text></g>
<g transform="matrix(0.9365,0,0,0.9769,335.232,238.556)"><text x="0" y="0" font-size="8.6" fill="#1c1c1c" stroke="#1c1c1c" stroke-width="0.18">HSP90α</text></g>
<g transform="matrix(0.9043,0,0,1.0417,354.248,267.600)"><text x="0" y="0" font-size="8.6" fill="#1c1c1c" stroke="#1c1c1c" stroke-width="0.18">HA</text></g>
<g transform="matrix(0.9402,0,0,0.9750,286.395,231.400)"><text x="0" y="0" font-size="8.6" fill="#1c1c1c" stroke="#1c1c1c" stroke-width="0.18">IP: HA</text></g>
<g transform="matrix(0.9274,0,0,0.9154,286.404,242.371)"><text x="0" y="0" font-size="8.6" fill="#1c1c1c" stroke="#1c1c1c" stroke-width="0.18">IB: HSP70</text></g>
<g transform="matrix(0.9402,0,0,0.9750,286.395,275.700)"><text x="0" y="0" font-size="8.6" fill="#1c1c1c" stroke="#1c1c1c" stroke-width="0.18">IP: HA</text></g>
<g transform="matrix(0.9526,0,0,0.9750,286.386,287.000)"><text x="0" y="0" font-size="8.6" fill="#1c1c1c" stroke="#1c1c1c" stroke-width="0.18">IB: HA</text></g>
<g transform="matrix(0.9361,0,0,0.9917,614.498,235.000)"><text x="0" y="0" font-size="8.6" fill="#1c1c1c" stroke="#1c1c1c" stroke-width="0.18">IP: HA</text></g>
<g transform="matrix(0.9582,0,0,1.0077,614.481,246.448)"><text x="0" y="0" font-size="8.6" fill="#1c1c1c" stroke="#1c1c1c" stroke-width="0.18">IB: HSP90α</text></g>
<g transform="matrix(0.9361,0,0,1.0250,614.498,272.900)"><text x="0" y="0" font-size="8.6" fill="#1c1c1c" stroke="#1c1c1c" stroke-width="0.18">IP: HA</text></g>
<g transform="matrix(0.9443,0,0,1.0250,614.492,284.000)"><text x="0" y="0" font-size="8.6" fill="#1c1c1c" stroke="#1c1c1c" stroke-width="0.18">IB: HA</text></g>
<rect x="42.30" y="313.20" width="115.60" height="1.50" fill="#1a1a1a" />
<rect x="166.40" y="313.20" width="114.60" height="1.50" fill="#1a1a1a" />
<rect x="368.60" y="313.20" width="115.40" height="1.50" fill="#1a1a1a" />
<rect x="493.00" y="313.20" width="115.70" height="1.50" fill="#1a1a1a" />
<g transform="matrix(0.9738,0,0,1.0200,87.613,327.045)"><text x="0" y="0" font-size="10.3" fill="#1c1c1c" font-weight="bold" stroke="#1c1c1c" stroke-width="0.18">INPUT</text></g>
<g transform="matrix(0.9495,0,0,0.9800,214.463,327.155)"><text x="0" y="0" font-size="10.3" fill="#1c1c1c" font-weight="bold" stroke="#1c1c1c" stroke-width="0.18">co-IP</text></g>
<g transform="matrix(0.9803,0,0,1.0733,415.310,327.432)"><text x="0" y="0" font-size="10.3" fill="#1c1c1c" font-weight="bold" stroke="#1c1c1c" stroke-width="0.18">INPUT</text></g>
<g transform="matrix(0.9495,0,0,1.0200,542.063,327.445)"><text x="0" y="0" font-size="10.3" fill="#1c1c1c" font-weight="bold" stroke="#1c1c1c" stroke-width="0.18">co-IP</text></g>
<g transform="matrix(0.8903,0,0,0.9722,3.519,372.800)"><text x="0" y="0" font-size="26" fill="#000"  >D</text></g>
<line x1="65.80" y1="373.30" x2="77.60" y2="373.30" stroke="#ff2414" stroke-width="1.4" />
<g transform="matrix(0.8582,0,0,1.0000,80.656,376.200)"><text x="0" y="0" font-size="9.4" fill="#1c1c1c" stroke="#1c1c1c" stroke-width="0.18">LBT-TPR2A WT + Tb<tspan font-size="4.9" dy="-3.5">3+</tspan><tspan dy="3.5"> </tspan></text></g>
<line x1="65.80" y1="388.90" x2="77.60" y2="388.90" stroke="#1a3cff" stroke-width="1.4" />
<g transform="matrix(0.8887,0,0,1.0000,80.633,392.000)"><text x="0" y="0" font-size="9.4" fill="#1c1c1c" stroke="#1c1c1c" stroke-width="0.18">LBT-TPR2A K229A + Tb<tspan font-size="4.9" dy="-3.5">3+</tspan><tspan dy="3.5"> </tspan></text></g>
<line x1="43.50" y1="408.60" x2="43.50" y2="517.95" stroke="#111" stroke-width="1.5" />
<line x1="42.75" y1="517.20" x2="203.30" y2="517.20" stroke="#111" stroke-width="1.5" />
<line x1="39.50" y1="517.20" x2="43.50" y2="517.20" stroke="#111" stroke-width="1.3" />
<text x="36.70" y="520.10" font-size="8.5" fill="#1c1c1c" text-anchor="end" stroke="#1c1c1c" stroke-width="0.18">0</text>
<line x1="39.50" y1="490.10" x2="43.50" y2="490.10" stroke="#111" stroke-width="1.3" />
<text x="36.70" y="493.00" font-size="8.5" fill="#1c1c1c" text-anchor="end" stroke="#1c1c1c" stroke-width="0.18">10000</text>
<line x1="39.50" y1="463.00" x2="43.50" y2="463.00" stroke="#111" stroke-width="1.3" />
<text x="36.70" y="465.90" font-size="8.5" fill="#1c1c1c" text-anchor="end" stroke="#1c1c1c" stroke-width="0.18">20000</text>
<line x1="39.50" y1="435.90" x2="43.50" y2="435.90" stroke="#111" stroke-width="1.3" />
<text x="36.70" y="438.80" font-size="8.5" fill="#1c1c1c" text-anchor="end" stroke="#1c1c1c" stroke-width="0.18">30000</text>
<line x1="39.50" y1="408.80" x2="43.50" y2="408.80" stroke="#111" stroke-width="1.3" />
<text x="36.70" y="411.70" font-size="8.5" fill="#1c1c1c" text-anchor="end" stroke="#1c1c1c" stroke-width="0.18">40000</text>
<line x1="44.10" y1="517.20" x2="44.10" y2="521.20" stroke="#111" stroke-width="1.3" />
<text x="44.10" y="529.30" font-size="8.5" fill="#1c1c1c" text-anchor="middle" stroke="#1c1c1c" stroke-width="0.18">450</text>
<line x1="96.84" y1="517.20" x2="96.84" y2="521.20" stroke="#111" stroke-width="1.3" />
<text x="96.84" y="529.30" font-size="8.5" fill="#1c1c1c" text-anchor="middle" stroke="#1c1c1c" stroke-width="0.18">500</text>
<line x1="149.57" y1="517.20" x2="149.57" y2="521.20" stroke="#111" stroke-width="1.3" />
<text x="149.57" y="529.30" font-size="8.5" fill="#1c1c1c" text-anchor="middle" stroke="#1c1c1c" stroke-width="0.18">550</text>
<line x1="202.30" y1="517.20" x2="202.30" y2="521.20" stroke="#111" stroke-width="1.3" />
<text x="202.30" y="529.30" font-size="8.5" fill="#1c1c1c" text-anchor="middle" stroke="#1c1c1c" stroke-width="0.18">600</text>
<g transform="translate(8.600,484.000) rotate(-90)"><g transform="matrix(0.9223,0,0,1.0000,-0.461,0.000)"><text x="0" y="0" font-size="8.6" fill="#1c1c1c" stroke="#1c1c1c" stroke-width="0.18">RFU (a.u.)</text></g></g>
<g transform="matrix(0.9838,0,0,1.0000,89.500,541.100)"><text x="0" y="0" font-size="8.6" fill="#1c1c1c" stroke="#1c1c1c" stroke-width="0.18">Wavelength (nm)</text></g>
<g transform="matrix(0.8320,0,0,0.9290,105.584,414.768)"><text x="0" y="0" font-size="10.5" fill="#111" font-weight="bold" stroke="#111" stroke-width="0.35">Ex</text></g>
<g transform="matrix(1.0633,0,0,1.0000,116.200,418.800)"><text x="0" y="0" font-size="5.8" fill="#111" font-weight="bold" stroke="#111" stroke-width="0.18">280 nm</text></g>
<polyline points="44.10,517.20 46.33,516.93 49.49,516.57 52.54,516.39 55.08,516.57 57.50,516.93 59.92,517.20 62.50,517.34 65.08,517.39 67.30,517.20 68.94,516.73 70.23,516.02 71.52,515.03 72.97,513.71 74.41,512.11 75.74,510.43 76.89,508.78 77.93,507.04 78.91,505.01 79.82,502.32 80.68,499.32 81.54,496.88 82.40,495.30 83.26,494.27 84.18,493.62 85.19,493.38 86.27,493.53 87.34,493.89 88.40,494.38 89.45,495.07 90.51,496.06 91.56,497.42 92.62,499.07 93.67,500.94 94.73,503.11 95.78,505.49 96.84,507.72 97.85,509.71 98.87,511.56 100.00,513.13 101.33,514.38 102.77,515.35 104.22,516.12 105.43,516.66 106.64,516.99 108.44,517.20 111.29,517.28 114.73,517.24 117.93,517.20 120.70,517.35 123.24,517.50 125.31,517.20 126.68,516.55 127.58,515.44 128.48,513.13 129.53,509.32 130.59,504.30 131.64,498.23 132.69,490.80 133.75,482.32 134.80,473.84 135.88,465.46 136.95,457.08 137.97,449.45 138.93,442.42 139.82,436.15 140.61,431.84 141.19,430.93 141.66,431.99 142.19,431.84 142.87,428.74 143.61,424.45 144.30,421.00 144.86,419.01 145.37,417.86 145.88,417.74 146.39,418.52 146.89,420.31 147.46,423.71 148.12,429.67 148.85,437.22 149.57,444.03 150.23,448.85 150.90,452.91 151.68,457.58 152.66,463.50 153.75,470.03 154.84,476.55 155.90,483.12 156.95,489.70 158.01,495.52 159.06,500.31 160.12,504.34 161.17,507.72 162.23,510.37 163.28,512.37 164.34,513.95 165.35,515.13 166.37,515.90 167.50,516.39 168.83,516.72 170.27,516.78 171.72,516.39 173.12,515.30 174.53,513.77 175.94,512.32 177.38,511.21 178.83,510.18 180.16,509.07 181.29,507.73 182.30,506.29 183.32,505.01 184.38,503.94 185.43,503.03 186.48,502.30 187.56,501.78 188.63,501.45 189.65,501.21 190.57,500.93 191.43,500.74 192.29,500.94 193.14,501.70 194.00,502.86 194.92,504.19 195.98,505.83 197.09,507.64 198.09,509.07 198.87,509.74 199.53,510.02 200.20,510.43 200.98,511.25 201.76,512.19 202.30,512.86" fill="none" stroke="#ff2414" stroke-width="1.4" stroke-linejoin="round" stroke-linecap="round"/>
<polyline points="44.10,517.20 46.72,517.20 50.51,517.20 54.65,517.20 59.37,517.27 64.45,517.34 68.36,517.20 70.19,516.72 70.86,516.03 71.52,515.30 72.58,514.75 73.63,514.17 74.69,513.13 75.74,511.47 76.80,509.35 77.85,506.90 78.94,503.86 80.04,500.49 81.01,497.69 81.80,495.85 82.46,494.59 83.12,493.62 83.81,493.00 84.49,492.68 85.23,492.27 86.11,491.49 87.05,490.61 87.87,490.10 88.42,490.08 88.85,490.42 89.45,491.18 90.39,492.50 91.50,494.24 92.62,496.06 93.67,497.80 94.73,499.63 95.78,501.75 96.80,504.47 97.81,507.49 98.94,510.15 100.27,512.24 101.72,513.97 103.16,515.30 104.53,516.16 105.90,516.62 107.38,516.93 108.83,517.13 110.39,517.18 112.66,517.20 116.37,517.37 120.78,517.51 124.26,517.20 125.94,516.50 126.68,515.34 127.42,513.13 128.48,509.42 129.53,504.65 130.59,499.59 131.64,494.77 132.69,489.65 133.75,483.33 134.80,474.94 135.86,465.36 136.91,456.23 138.01,447.79 139.10,439.81 140.08,433.19 140.84,428.42 141.48,425.01 142.19,422.35 143.03,420.46 143.94,419.33 144.82,418.29 145.69,416.55 146.53,414.90 147.25,415.03 147.75,418.11 148.11,422.97 148.52,427.77 149.00,432.18 149.52,436.52 150.10,439.97 150.74,441.32 151.45,441.77 152.21,444.03 153.01,449.40 153.87,456.58 154.84,464.36 156.00,472.84 157.27,481.92 158.53,490.10 159.75,496.93 160.96,502.85 162.23,507.72 163.55,511.40 164.94,514.03 166.45,515.85 168.16,516.87 170.00,517.08 171.72,516.66 173.20,515.37 174.57,513.46 175.94,511.78 177.38,510.74 178.83,509.93 180.16,509.07 181.32,508.11 182.37,507.08 183.32,505.82 184.12,503.82 184.82,501.58 185.64,500.40 186.71,501.30 187.90,503.26 189.02,504.46 189.96,503.79 190.84,502.37 191.76,501.75 192.78,502.75 193.85,504.55 194.92,506.36 195.94,507.98 196.95,509.59 198.09,510.97 199.57,512.03 201.17,512.85 202.30,513.41" fill="none" stroke="#1a3cff" stroke-width="1.4" stroke-linejoin="round" stroke-linecap="round"/>
<g transform="matrix(0.7018,0,0,0.9722,208.996,372.800)"><text x="0" y="0" font-size="26" fill="#000"  >E</text></g>
<line x1="259.00" y1="373.40" x2="270.50" y2="373.40" stroke="#ff2414" stroke-width="1.4" />
<g transform="matrix(0.8785,0,0,1.0000,272.541,376.200)"><text x="0" y="0" font-size="9.4" fill="#1c1c1c" stroke="#1c1c1c" stroke-width="0.18">LBT-TPR2A WT + Tb<tspan font-size="4.9" dy="-3.5">3+</tspan><tspan dy="3.5"> </tspan>+ EGFP-C90</text></g>
<line x1="259.00" y1="388.70" x2="270.50" y2="388.70" stroke="#1a3cff" stroke-width="1.4" />
<g transform="matrix(0.8943,0,0,1.0000,272.529,391.500)"><text x="0" y="0" font-size="9.4" fill="#1c1c1c" stroke="#1c1c1c" stroke-width="0.18">LBT-TPR2A K229A + Tb<tspan font-size="4.9" dy="-3.5">3+</tspan><tspan dy="3.5"> </tspan>+ EGFP-C90</text></g>
<line x1="252.20" y1="408.30" x2="252.20" y2="518.65" stroke="#111" stroke-width="1.5" />
<line x1="251.45" y1="517.90" x2="413.80" y2="517.90" stroke="#111" stroke-width="1.5" />
<line x1="248.20" y1="517.90" x2="252.20" y2="517.90" stroke="#111" stroke-width="1.3" />
<text x="246.40" y="520.80" font-size="8.5" fill="#1c1c1c" text-anchor="end" stroke="#1c1c1c" stroke-width="0.18">0</text>
<line x1="248.20" y1="496.00" x2="252.20" y2="496.00" stroke="#111" stroke-width="1.3" />
<text x="246.40" y="498.90" font-size="8.5" fill="#1c1c1c" text-anchor="end" stroke="#1c1c1c" stroke-width="0.18">10000</text>
<line x1="248.20" y1="474.10" x2="252.20" y2="474.10" stroke="#111" stroke-width="1.3" />
<text x="246.40" y="477.00" font-size="8.5" fill="#1c1c1c" text-anchor="end" stroke="#1c1c1c" stroke-width="0.18">20000</text>
<line x1="248.20" y1="452.20" x2="252.20" y2="452.20" stroke="#111" stroke-width="1.3" />
<text x="246.40" y="455.10" font-size="8.5" fill="#1c1c1c" text-anchor="end" stroke="#1c1c1c" stroke-width="0.18">30000</text>
<line x1="248.20" y1="430.30" x2="252.20" y2="430.30" stroke="#111" stroke-width="1.3" />
<text x="246.40" y="433.20" font-size="8.5" fill="#1c1c1c" text-anchor="end" stroke="#1c1c1c" stroke-width="0.18">40000</text>
<line x1="248.20" y1="408.40" x2="252.20" y2="408.40" stroke="#111" stroke-width="1.3" />
<text x="246.40" y="411.30" font-size="8.5" fill="#1c1c1c" text-anchor="end" stroke="#1c1c1c" stroke-width="0.18">50000</text>
<line x1="255.20" y1="517.90" x2="255.20" y2="521.90" stroke="#111" stroke-width="1.3" />
<text x="255.20" y="530.00" font-size="8.5" fill="#1c1c1c" text-anchor="middle" stroke="#1c1c1c" stroke-width="0.18">500</text>
<line x1="286.26" y1="517.90" x2="286.26" y2="521.90" stroke="#111" stroke-width="1.3" />
<text x="286.26" y="530.00" font-size="8.5" fill="#1c1c1c" text-anchor="middle" stroke="#1c1c1c" stroke-width="0.18">510</text>
<line x1="317.32" y1="517.90" x2="317.32" y2="521.90" stroke="#111" stroke-width="1.3" />
<text x="317.32" y="530.00" font-size="8.5" fill="#1c1c1c" text-anchor="middle" stroke="#1c1c1c" stroke-width="0.18">520</text>
<line x1="348.38" y1="517.90" x2="348.38" y2="521.90" stroke="#111" stroke-width="1.3" />
<text x="348.38" y="530.00" font-size="8.5" fill="#1c1c1c" text-anchor="middle" stroke="#1c1c1c" stroke-width="0.18">530</text>
<line x1="379.44" y1="517.90" x2="379.44" y2="521.90" stroke="#111" stroke-width="1.3" />
<text x="379.44" y="530.00" font-size="8.5" fill="#1c1c1c" text-anchor="middle" stroke="#1c1c1c" stroke-width="0.18">540</text>
<line x1="410.50" y1="517.90" x2="410.50" y2="521.90" stroke="#111" stroke-width="1.3" />
<text x="410.50" y="530.00" font-size="8.5" fill="#1c1c1c" text-anchor="middle" stroke="#1c1c1c" stroke-width="0.18">550</text>
<g transform="translate(218.900,483.300) rotate(-90)"><g transform="matrix(0.9045,0,0,1.0000,-0.452,0.000)"><text x="0" y="0" font-size="8.6" fill="#1c1c1c" stroke="#1c1c1c" stroke-width="0.18">RFU (a.u.)</text></g></g>
<g transform="matrix(0.9792,0,0,1.0000,298.700,541.300)"><text x="0" y="0" font-size="8.6" fill="#1c1c1c" stroke="#1c1c1c" stroke-width="0.18">Wavelength (nm)</text></g>
<g transform="matrix(0.7600,0,0,0.9419,315.120,415.365)"><text x="0" y="0" font-size="10.5" fill="#111" font-weight="bold" stroke="#111" stroke-width="0.35">Ex</text></g>
<g transform="matrix(1.0785,0,0,1.0000,325.900,419.900)"><text x="0" y="0" font-size="5.8" fill="#111" font-weight="bold" stroke="#111" stroke-width="0.18">470 nm</text></g>
<polyline points="255.20,447.16 256.69,445.07 258.83,442.04 261.25,438.73 263.59,435.77 265.84,433.21 268.17,430.75 270.46,428.50 272.59,426.58 274.53,425.03 276.32,423.80 278.04,422.80 279.74,421.98 281.42,421.33 283.06,420.88 284.67,420.60 286.26,420.44 287.81,420.38 289.33,420.44 290.86,420.67 292.47,421.10 294.15,421.75 295.87,422.59 297.68,423.62 299.62,424.82 301.61,426.06 303.65,427.38 305.93,429.07 308.62,431.39 311.97,434.71 315.83,438.79 319.72,443.00 323.22,446.72 326.05,449.82 328.50,452.61 330.95,455.19 333.78,457.67 337.06,460.09 340.60,462.37 344.37,464.50 348.38,466.43 352.63,468.11 357.12,469.56 361.82,470.92 366.71,472.35 371.83,473.80 377.19,475.24 382.66,476.76 388.14,478.48 394.12,480.69 400.50,483.24 406.21,485.60 410.19,487.24" fill="none" stroke="#ff2414" stroke-width="1.4" stroke-linejoin="round" stroke-linecap="round"/>
<polyline points="255.20,445.63 256.69,443.41 258.83,440.22 261.25,436.72 263.59,433.58 265.84,430.85 268.17,428.21 270.46,425.79 272.59,423.73 274.53,422.10 276.32,420.81 278.04,419.78 279.74,418.91 281.43,418.20 283.08,417.69 284.69,417.36 286.26,417.16 287.74,417.10 289.15,417.20 290.59,417.44 292.16,417.82 293.88,418.27 295.69,418.82 297.61,419.58 299.62,420.66 301.63,421.99 303.67,423.54 305.94,425.51 308.62,428.11 311.97,431.71 315.83,436.10 319.72,440.60 323.22,444.53 326.05,447.68 328.50,450.42 330.95,452.95 333.78,455.48 337.06,458.12 340.60,460.74 344.37,463.19 348.38,465.34 352.63,467.04 357.12,468.41 361.82,469.66 366.71,471.03 371.83,472.53 377.19,474.05 382.66,475.64 388.14,477.38 394.12,479.52 400.50,481.94 406.21,484.17 410.19,485.71" fill="none" stroke="#1a3cff" stroke-width="1.4" stroke-linejoin="round" stroke-linecap="round"/>
<line x1="468.70" y1="374.00" x2="480.50" y2="374.00" stroke="#ff2414" stroke-width="1.4" />
<g transform="matrix(0.8846,0,0,1.0000,483.837,377.000)"><text x="0" y="0" font-size="9.4" fill="#1c1c1c" stroke="#1c1c1c" stroke-width="0.18">LBT-TPR2A WT + Tb<tspan font-size="4.9" dy="-3.5">3+</tspan><tspan dy="3.5"> </tspan>+ EGFP-C90</text></g>
<line x1="468.70" y1="389.80" x2="480.50" y2="389.80" stroke="#1a3cff" stroke-width="1.4" />
<g transform="matrix(0.8992,0,0,1.0000,483.826,392.500)"><text x="0" y="0" font-size="9.4" fill="#1c1c1c" stroke="#1c1c1c" stroke-width="0.18">LBT-TPR2A K229A + Tb<tspan font-size="4.9" dy="-3.5">3+</tspan><tspan dy="3.5"> </tspan>+ EGFP-C90</text></g>
<line x1="466.20" y1="409.60" x2="466.20" y2="517.05" stroke="#111" stroke-width="1.5" />
<line x1="465.45" y1="516.30" x2="627.00" y2="516.30" stroke="#111" stroke-width="1.5" />
<line x1="462.20" y1="516.30" x2="466.20" y2="516.30" stroke="#111" stroke-width="1.3" />
<text x="460.40" y="519.20" font-size="8.5" fill="#1c1c1c" text-anchor="end" stroke="#1c1c1c" stroke-width="0.18">0</text>
<line x1="462.20" y1="481.17" x2="466.20" y2="481.17" stroke="#111" stroke-width="1.3" />
<text x="460.40" y="484.07" font-size="8.5" fill="#1c1c1c" text-anchor="end" stroke="#1c1c1c" stroke-width="0.18">20000</text>
<line x1="462.20" y1="446.03" x2="466.20" y2="446.03" stroke="#111" stroke-width="1.3" />
<text x="460.40" y="448.93" font-size="8.5" fill="#1c1c1c" text-anchor="end" stroke="#1c1c1c" stroke-width="0.18">40000</text>
<line x1="462.20" y1="410.90" x2="466.20" y2="410.90" stroke="#111" stroke-width="1.3" />
<text x="460.40" y="413.80" font-size="8.5" fill="#1c1c1c" text-anchor="end" stroke="#1c1c1c" stroke-width="0.18">60000</text>
<line x1="467.40" y1="516.30" x2="467.40" y2="520.30" stroke="#111" stroke-width="1.3" />
<text x="467.40" y="528.40" font-size="8.5" fill="#1c1c1c" text-anchor="middle" stroke="#1c1c1c" stroke-width="0.18">450</text>
<line x1="520.16" y1="516.30" x2="520.16" y2="520.30" stroke="#111" stroke-width="1.3" />
<text x="520.16" y="528.40" font-size="8.5" fill="#1c1c1c" text-anchor="middle" stroke="#1c1c1c" stroke-width="0.18">500</text>
<line x1="572.93" y1="516.30" x2="572.93" y2="520.30" stroke="#111" stroke-width="1.3" />
<text x="572.93" y="528.40" font-size="8.5" fill="#1c1c1c" text-anchor="middle" stroke="#1c1c1c" stroke-width="0.18">550</text>
<line x1="625.69" y1="516.30" x2="625.69" y2="520.30" stroke="#111" stroke-width="1.3" />
<text x="625.69" y="528.40" font-size="8.5" fill="#1c1c1c" text-anchor="middle" stroke="#1c1c1c" stroke-width="0.18">600</text>
<g transform="translate(432.900,483.000) rotate(-90)"><g transform="matrix(0.8943,0,0,1.0000,-0.447,0.000)"><text x="0" y="0" font-size="8.6" fill="#1c1c1c" stroke="#1c1c1c" stroke-width="0.18">RFU (a.u.)</text></g></g>
<g transform="matrix(1.0008,0,0,1.0000,512.900,541.300)"><text x="0" y="0" font-size="8.6" fill="#1c1c1c" stroke="#1c1c1c" stroke-width="0.18">Wavelength (nm)</text></g>
<g transform="matrix(0.8160,0,0,0.9032,529.092,415.074)"><text x="0" y="0" font-size="10.5" fill="#111" font-weight="bold" stroke="#111" stroke-width="0.35">Ex</text></g>
<g transform="matrix(1.1089,0,0,1.0000,540.000,419.900)"><text x="0" y="0" font-size="5.8" fill="#111" font-weight="bold" stroke="#111" stroke-width="0.18">280 nm</text></g>
<polyline points="467.40,516.30 478.12,516.47 489.56,516.30 493.45,515.27 495.26,513.56 498.10,511.17 500.75,508.10 502.89,504.15 504.86,499.87 507.01,495.33 508.98,491.71 510.44,490.65 511.72,490.83 513.09,491.66 514.47,492.50 515.84,492.04 517.21,491.71 518.53,493.10 519.85,494.41 521.21,494.07 522.59,493.04 523.96,491.45 525.34,490.30 526.71,491.28 528.08,492.50 529.37,492.16 530.82,491.71 532.88,492.24 534.94,493.04 536.40,493.76 537.68,494.41 539.14,495.01 540.43,495.22 541.12,493.91 541.80,493.46 542.86,497.24 544.44,501.25 547.09,501.90 549.92,501.25 552.15,500.59 554.04,498.56 555.50,494.09 556.78,487.56 558.10,478.66 559.53,468.39 561.29,457.56 563.12,446.56 564.84,434.40 566.39,426.01 567.58,428.77 568.60,434.26 569.52,434.36 570.50,435.49 571.82,442.46 573.25,452.00 574.54,462.77 575.99,473.88 577.91,484.14 580.00,493.04 582.05,499.29 584.12,504.00 586.30,507.92 588.23,510.82 589.42,512.79 590.34,513.66 591.31,512.71 592.35,511.64 593.59,512.73 595.09,513.56 597.06,511.88 599.21,509.45 601.26,507.27 603.32,505.36 605.42,504.25 607.44,503.44 609.32,502.14 610.92,501.79 611.92,504.77 612.82,507.52 614.14,506.03 615.56,504.00 616.85,504.12 618.31,505.36 620.33,507.95 622.42,510.82 624.32,512.94 625.69,514.39" fill="none" stroke="#ff2414" stroke-width="1.4" stroke-linejoin="round" stroke-linecap="round"/>
<polyline points="467.40,516.30 478.84,516.56 491.14,516.30 495.72,514.59 498.00,512.19 500.92,509.71 503.49,506.73 505.69,502.44 507.61,498.56 509.33,496.68 510.88,496.27 512.32,498.05 513.62,499.87 514.73,498.94 515.84,497.96 517.10,499.31 518.58,501.25 520.50,502.74 522.59,504.00 524.73,504.94 526.71,505.36 528.17,504.59 529.45,504.00 530.74,505.35 532.20,506.73 534.17,506.27 536.31,505.62 538.37,505.97 540.43,506.73 542.48,507.86 544.54,508.92 546.69,509.41 548.66,509.45 550.06,509.15 551.30,508.10 552.58,506.37 554.04,502.60 556.01,494.92 558.16,484.86 560.21,472.01 562.27,460.19 564.42,454.19 566.39,450.60 567.90,447.54 569.13,445.15 570.11,441.89 571.03,441.03 572.09,446.30 573.25,454.82 574.51,465.20 575.99,476.60 577.91,488.23 580.00,498.50 582.05,505.09 584.12,509.45 586.17,512.14 588.23,513.56 590.29,514.37 592.35,514.39 594.41,513.51 596.46,512.19 598.52,510.77 600.58,509.45 602.64,508.52 604.69,508.10 606.84,509.00 608.81,509.45 610.22,506.97 611.45,504.53 612.81,504.98 614.19,506.18 615.48,506.61 616.94,507.27 618.91,508.89 621.05,510.82 623.37,512.82 625.17,514.39" fill="none" stroke="#1a3cff" stroke-width="1.4" stroke-linejoin="round" stroke-linecap="round"/>
<circle cx="532.30" cy="462.90" r="11.1" fill="#a6df22" stroke="#1e1e1e" stroke-width="1.4"/>
<g transform="matrix(0.8900,0,0,1.0000,522.955,465.750)"><text x="0" y="0" font-size="8.0" fill="#1a1a1a" stroke="#1a1a1a" stroke-width="0.3">LRET</text></g>
<line x1="532.30" y1="474.00" x2="532.30" y2="483.50" stroke="#1e1e1e" stroke-width="1.3" />
<polygon points="529.60,482.00 535.00,482.00 532.30,487.00" fill="#1e1e1e"/>
<g transform="matrix(0.7294,0,0,0.9944,5.741,574.400)"><text x="0" y="0" font-size="26" fill="#000"  >F</text></g>
<line x1="69.50" y1="597.10" x2="85.50" y2="597.10" stroke="#111" stroke-width="1.4" />
<circle cx="77.3" cy="597.1" r="3.4" fill="#111"/>
<line x1="69.50" y1="613.90" x2="85.50" y2="613.90" stroke="#111" stroke-width="1.4" />
<rect x="74.60" y="610.70" width="6.60" height="6.60" fill="#111" />
<g transform="matrix(0.8819,0,0,1.0000,87.639,599.900)"><text x="0" y="0" font-size="9.4" fill="#1c1c1c" stroke="#1c1c1c" stroke-width="0.18">LBT-TPR2A WT + Tb<tspan font-size="4.9" dy="-3.5">3+</tspan><tspan dy="3.5"> </tspan></text></g>
<g transform="matrix(0.8698,0,0,1.0000,87.648,617.100)"><text x="0" y="0" font-size="9.4" fill="#1c1c1c" stroke="#1c1c1c" stroke-width="0.18">LBT-TPR2A K229A + Tb<tspan font-size="4.9" dy="-3.5">3+</tspan><tspan dy="3.5"> </tspan></text></g>
<line x1="58.30" y1="626.30" x2="58.30" y2="726.55" stroke="#111" stroke-width="1.5" />
<line x1="57.55" y1="725.80" x2="209.00" y2="725.80" stroke="#111" stroke-width="1.5" />
<line x1="54.30" y1="725.80" x2="58.30" y2="725.80" stroke="#111" stroke-width="1.3" />
<text x="52.50" y="728.70" font-size="8.5" fill="#1c1c1c" text-anchor="end" stroke="#1c1c1c" stroke-width="0.18">0.0</text>
<line x1="54.30" y1="702.61" x2="58.30" y2="702.61" stroke="#111" stroke-width="1.3" />
<text x="52.50" y="705.51" font-size="8.5" fill="#1c1c1c" text-anchor="end" stroke="#1c1c1c" stroke-width="0.18">0.3</text>
<line x1="54.30" y1="679.42" x2="58.30" y2="679.42" stroke="#111" stroke-width="1.3" />
<text x="52.50" y="682.32" font-size="8.5" fill="#1c1c1c" text-anchor="end" stroke="#1c1c1c" stroke-width="0.18">0.6</text>
<line x1="54.30" y1="656.23" x2="58.30" y2="656.23" stroke="#111" stroke-width="1.3" />
<text x="52.50" y="659.13" font-size="8.5" fill="#1c1c1c" text-anchor="end" stroke="#1c1c1c" stroke-width="0.18">0.9</text>
<line x1="54.30" y1="633.04" x2="58.30" y2="633.04" stroke="#111" stroke-width="1.3" />
<text x="52.50" y="635.94" font-size="8.5" fill="#1c1c1c" text-anchor="end" stroke="#1c1c1c" stroke-width="0.18">1.2</text>
<line x1="58.30" y1="725.80" x2="58.30" y2="729.80" stroke="#111" stroke-width="1.3" />
<text x="58.30" y="737.40" font-size="8.5" fill="#1c1c1c" text-anchor="middle" stroke="#1c1c1c" stroke-width="0.18">0</text>
<line x1="108.30" y1="725.80" x2="108.30" y2="729.80" stroke="#111" stroke-width="1.3" />
<text x="108.30" y="737.40" font-size="8.5" fill="#1c1c1c" text-anchor="middle" stroke="#1c1c1c" stroke-width="0.18">2</text>
<line x1="158.30" y1="725.80" x2="158.30" y2="729.80" stroke="#111" stroke-width="1.3" />
<text x="158.30" y="737.40" font-size="8.5" fill="#1c1c1c" text-anchor="middle" stroke="#1c1c1c" stroke-width="0.18">4</text>
<line x1="208.30" y1="725.80" x2="208.30" y2="729.80" stroke="#111" stroke-width="1.3" />
<text x="208.30" y="737.40" font-size="8.5" fill="#1c1c1c" text-anchor="middle" stroke="#1c1c1c" stroke-width="0.18">6</text>
<g transform="translate(32.300,749.200) rotate(-90)"><g transform="matrix(0.9164,0,0,1.0000,-0.687,0.000)"><text x="0" y="0" font-size="10.0" fill="#1c1c1c" stroke="#1c1c1c" stroke-width="0.18">Normalized LRET (Em<tspan font-size="5.9" dy="4.2">510 nm</tspan><tspan dy="-4.2">/Em</tspan><tspan font-size="5.9" dy="4.2">490 nm</tspan><tspan dy="-4.2">)</tspan></text></g></g>
<g transform="matrix(0.9874,0,0,1.0000,68.653,751.900)"><text x="0" y="0" font-size="8.6" fill="#1c1c1c" stroke="#1c1c1c" stroke-width="0.18">Concentration of EGFP-C90 (µM)</text></g>
<polyline points="58.30,712.27 60.49,711.83 63.58,711.22 67.21,710.49 71.02,709.72 74.67,708.98 77.80,708.33 80.44,707.79 82.87,707.30 85.14,706.84 87.28,706.38 89.32,705.88 91.30,705.32 93.17,704.70 94.91,704.06 96.55,703.39 98.13,702.67 99.70,701.90 101.30,701.06 102.94,700.15 104.58,699.16 106.21,698.12 107.80,697.05 109.34,695.96 110.80,694.88 112.20,693.79 113.56,692.68 114.86,691.56 116.10,690.43 117.25,689.32 118.30,688.23 119.19,687.22 119.93,686.29 120.58,685.37 121.23,684.40 121.94,683.32 122.80,682.05 123.82,680.55 124.96,678.85 126.16,677.04 127.39,675.19 128.62,673.38 129.80,671.69 130.94,670.09 132.07,668.51 133.19,666.97 134.31,665.48 135.43,664.06 136.55,662.72 137.65,661.47 138.73,660.30 139.80,659.19 140.90,658.15 142.06,657.16 143.30,656.23 144.61,655.35 145.98,654.53 147.39,653.77 148.87,653.06 150.42,652.41 152.05,651.82 153.59,651.30 154.99,650.84 156.47,650.44 158.22,650.09 160.43,649.78 163.30,649.50 167.32,649.27 172.43,649.08 178.00,648.93 183.42,648.82 188.06,648.73 191.30,648.65" fill="none" stroke="#111" stroke-width="1.3" stroke-linejoin="round" stroke-linecap="round"/>
<polyline points="58.30,711.58 60.49,711.16 63.58,710.58 67.21,709.90 71.02,709.16 74.67,708.41 77.80,707.71 80.45,707.05 82.90,706.40 85.19,705.74 87.34,705.06 89.37,704.35 91.30,703.61 93.09,702.86 94.71,702.10 96.21,701.32 97.64,700.48 99.07,699.58 100.55,698.59 102.09,697.45 103.65,696.17 105.21,694.82 106.73,693.48 108.18,692.21 109.55,691.09 110.81,690.14 111.97,689.30 113.07,688.54 114.13,687.82 115.20,687.11 116.30,686.38 117.42,685.61 118.54,684.83 119.66,684.06 120.78,683.32 121.91,682.64 123.05,682.05 124.15,681.55 125.21,681.13 126.27,680.77 127.39,680.44 128.63,680.13 130.05,679.81 131.62,679.47 133.31,679.14 135.11,678.82 137.04,678.52 139.10,678.26 141.30,678.03 143.48,677.85 145.61,677.70 147.88,677.59 150.46,677.50 153.54,677.41 157.30,677.33 162.32,677.26 168.56,677.19 175.30,677.13 181.82,677.09 187.39,677.05 191.30,677.02" fill="none" stroke="#111" stroke-width="1.3" stroke-linejoin="round" stroke-linecap="round"/>
<line x1="72.05" y1="713.20" x2="72.05" y2="705.47" stroke="#111" stroke-width="1.1" />
<line x1="69.15" y1="713.20" x2="74.95" y2="713.20" stroke="#111" stroke-width="1.1" />
<line x1="69.15" y1="705.47" x2="74.95" y2="705.47" stroke="#111" stroke-width="1.1" />
<line x1="78.80" y1="711.11" x2="78.80" y2="701.84" stroke="#111" stroke-width="1.1" />
<line x1="75.90" y1="711.11" x2="81.70" y2="711.11" stroke="#111" stroke-width="1.1" />
<line x1="75.90" y1="701.84" x2="81.70" y2="701.84" stroke="#111" stroke-width="1.1" />
<line x1="106.80" y1="695.11" x2="106.80" y2="685.84" stroke="#111" stroke-width="1.1" />
<line x1="103.90" y1="695.11" x2="109.70" y2="695.11" stroke="#111" stroke-width="1.1" />
<line x1="103.90" y1="685.84" x2="109.70" y2="685.84" stroke="#111" stroke-width="1.1" />
<line x1="120.80" y1="684.83" x2="120.80" y2="677.87" stroke="#111" stroke-width="1.1" />
<line x1="117.90" y1="684.83" x2="123.70" y2="684.83" stroke="#111" stroke-width="1.1" />
<line x1="117.90" y1="677.87" x2="123.70" y2="677.87" stroke="#111" stroke-width="1.1" />
<line x1="164.80" y1="661.41" x2="164.80" y2="646.72" stroke="#111" stroke-width="1.1" />
<line x1="161.90" y1="661.41" x2="167.70" y2="661.41" stroke="#111" stroke-width="1.1" />
<line x1="161.90" y1="646.72" x2="167.70" y2="646.72" stroke="#111" stroke-width="1.1" />
<line x1="179.30" y1="647.96" x2="179.30" y2="641.16" stroke="#111" stroke-width="1.1" />
<line x1="176.40" y1="647.96" x2="182.20" y2="647.96" stroke="#111" stroke-width="1.1" />
<line x1="176.40" y1="641.16" x2="182.20" y2="641.16" stroke="#111" stroke-width="1.1" />
<line x1="191.30" y1="646.18" x2="191.30" y2="630.72" stroke="#111" stroke-width="1.1" />
<line x1="188.40" y1="646.18" x2="194.20" y2="646.18" stroke="#111" stroke-width="1.1" />
<line x1="188.40" y1="630.72" x2="194.20" y2="630.72" stroke="#111" stroke-width="1.1" />
<line x1="58.30" y1="725.26" x2="58.30" y2="720.62" stroke="#111" stroke-width="1.1" />
<line x1="55.40" y1="725.26" x2="61.20" y2="725.26" stroke="#111" stroke-width="1.1" />
<line x1="55.40" y1="720.62" x2="61.20" y2="720.62" stroke="#111" stroke-width="1.1" />
<line x1="65.30" y1="715.44" x2="65.30" y2="707.71" stroke="#111" stroke-width="1.1" />
<line x1="62.40" y1="715.44" x2="68.20" y2="715.44" stroke="#111" stroke-width="1.1" />
<line x1="62.40" y1="707.71" x2="68.20" y2="707.71" stroke="#111" stroke-width="1.1" />
<line x1="72.05" y1="708.25" x2="72.05" y2="698.98" stroke="#111" stroke-width="1.1" />
<line x1="69.15" y1="708.25" x2="74.95" y2="708.25" stroke="#111" stroke-width="1.1" />
<line x1="69.15" y1="698.98" x2="74.95" y2="698.98" stroke="#111" stroke-width="1.1" />
<line x1="78.80" y1="710.96" x2="78.80" y2="701.68" stroke="#111" stroke-width="1.1" />
<line x1="75.90" y1="710.96" x2="81.70" y2="710.96" stroke="#111" stroke-width="1.1" />
<line x1="75.90" y1="701.68" x2="81.70" y2="701.68" stroke="#111" stroke-width="1.1" />
<line x1="89.05" y1="704.93" x2="89.05" y2="700.29" stroke="#111" stroke-width="1.1" />
<line x1="86.15" y1="704.93" x2="91.95" y2="704.93" stroke="#111" stroke-width="1.1" />
<line x1="86.15" y1="700.29" x2="91.95" y2="700.29" stroke="#111" stroke-width="1.1" />
<line x1="120.80" y1="696.58" x2="120.80" y2="687.92" stroke="#111" stroke-width="1.1" />
<line x1="117.90" y1="696.58" x2="123.70" y2="696.58" stroke="#111" stroke-width="1.1" />
<line x1="117.90" y1="687.92" x2="123.70" y2="687.92" stroke="#111" stroke-width="1.1" />
<line x1="164.80" y1="683.59" x2="164.80" y2="670.61" stroke="#111" stroke-width="1.1" />
<line x1="161.90" y1="683.59" x2="167.70" y2="683.59" stroke="#111" stroke-width="1.1" />
<line x1="161.90" y1="670.61" x2="167.70" y2="670.61" stroke="#111" stroke-width="1.1" />
<line x1="179.30" y1="675.71" x2="179.30" y2="667.98" stroke="#111" stroke-width="1.1" />
<line x1="176.40" y1="675.71" x2="182.20" y2="675.71" stroke="#111" stroke-width="1.1" />
<line x1="176.40" y1="667.98" x2="182.20" y2="667.98" stroke="#111" stroke-width="1.1" />
<circle cx="58.30" cy="718.07" r="2.85" fill="#111"/>
<circle cx="65.30" cy="716.14" r="2.85" fill="#111"/>
<circle cx="72.05" cy="709.34" r="2.85" fill="#111"/>
<circle cx="78.80" cy="706.47" r="2.85" fill="#111"/>
<circle cx="89.05" cy="704.77" r="2.85" fill="#111"/>
<circle cx="106.80" cy="690.47" r="2.85" fill="#111"/>
<circle cx="120.80" cy="681.35" r="2.85" fill="#111"/>
<circle cx="145.80" cy="669.53" r="2.85" fill="#111"/>
<circle cx="164.80" cy="654.07" r="2.85" fill="#111"/>
<circle cx="179.30" cy="644.56" r="2.85" fill="#111"/>
<circle cx="191.30" cy="638.45" r="2.85" fill="#111"/>
<rect x="55.70" y="720.34" width="5.20" height="5.20" fill="#111" />
<rect x="62.70" y="708.98" width="5.20" height="5.20" fill="#111" />
<rect x="69.45" y="701.01" width="5.20" height="5.20" fill="#111" />
<rect x="76.20" y="703.72" width="5.20" height="5.20" fill="#111" />
<rect x="86.45" y="700.01" width="5.20" height="5.20" fill="#111" />
<rect x="104.20" y="689.19" width="5.20" height="5.20" fill="#111" />
<rect x="118.20" y="689.65" width="5.20" height="5.20" fill="#111" />
<rect x="143.20" y="679.45" width="5.20" height="5.20" fill="#111" />
<rect x="162.20" y="674.50" width="5.20" height="5.20" fill="#111" />
<rect x="176.70" y="669.24" width="5.20" height="5.20" fill="#111" />
<rect x="188.70" y="672.65" width="5.20" height="5.20" fill="#111" />
<circle cx="58.30" cy="720.39" r="2.85" fill="#111"/>
<line x1="58.30" y1="725.80" x2="58.30" y2="706.09" stroke="#111" stroke-width="1.2" />
<line x1="55.30" y1="706.09" x2="61.30" y2="706.09" stroke="#111" stroke-width="1.2" />
<polygon points="54.70,725.80 61.90,725.80 60.90,718.84 55.70,718.84" fill="#111"/>
<g transform="matrix(0.8647,0,0,1.0000,227.819,574.550)"><text x="0" y="0" font-size="26" fill="#000"  >G</text></g>
<line x1="268.20" y1="593.50" x2="279.90" y2="593.50" stroke="#ff2414" stroke-width="1.4" />
<g transform="matrix(0.8548,0,0,1.0000,282.559,596.200)"><text x="0" y="0" font-size="9.4" fill="#1c1c1c" stroke="#1c1c1c" stroke-width="0.18">LBT-TPR1 WT + Tb<tspan font-size="4.9" dy="-3.5">3+</tspan><tspan dy="3.5"> </tspan>+ TagRFP-C70</text></g>
<line x1="268.20" y1="608.70" x2="279.90" y2="608.70" stroke="#1a3cff" stroke-width="1.4" />
<g transform="matrix(0.8661,0,0,1.0000,282.550,611.200)"><text x="0" y="0" font-size="9.4" fill="#1c1c1c" stroke="#1c1c1c" stroke-width="0.18">LBT-TPR1 K8A + Tb<tspan font-size="4.9" dy="-3.5">3+</tspan><tspan dy="3.5"> </tspan>+ TagRFP-C70</text></g>
<line x1="256.70" y1="617.00" x2="256.70" y2="726.45" stroke="#111" stroke-width="1.5" />
<line x1="255.95" y1="725.70" x2="417.00" y2="725.70" stroke="#111" stroke-width="1.5" />
<line x1="252.70" y1="725.70" x2="256.70" y2="725.70" stroke="#111" stroke-width="1.3" />
<text x="250.90" y="728.60" font-size="8.5" fill="#1c1c1c" text-anchor="end" stroke="#1c1c1c" stroke-width="0.18">0</text>
<line x1="252.70" y1="689.73" x2="256.70" y2="689.73" stroke="#111" stroke-width="1.3" />
<text x="250.90" y="692.63" font-size="8.5" fill="#1c1c1c" text-anchor="end" stroke="#1c1c1c" stroke-width="0.18">20000</text>
<line x1="252.70" y1="653.77" x2="256.70" y2="653.77" stroke="#111" stroke-width="1.3" />
<text x="250.90" y="656.67" font-size="8.5" fill="#1c1c1c" text-anchor="end" stroke="#1c1c1c" stroke-width="0.18">40000</text>
<line x1="252.70" y1="617.80" x2="256.70" y2="617.80" stroke="#111" stroke-width="1.3" />
<text x="250.90" y="620.70" font-size="8.5" fill="#1c1c1c" text-anchor="end" stroke="#1c1c1c" stroke-width="0.18">60000</text>
<line x1="260.30" y1="725.70" x2="260.30" y2="729.70" stroke="#111" stroke-width="1.3" />
<text x="260.30" y="737.80" font-size="8.5" fill="#1c1c1c" text-anchor="middle" stroke="#1c1c1c" stroke-width="0.18">575</text>
<line x1="298.95" y1="725.70" x2="298.95" y2="729.70" stroke="#111" stroke-width="1.3" />
<text x="298.95" y="737.80" font-size="8.5" fill="#1c1c1c" text-anchor="middle" stroke="#1c1c1c" stroke-width="0.18">585</text>
<line x1="337.60" y1="725.70" x2="337.60" y2="729.70" stroke="#111" stroke-width="1.3" />
<text x="337.60" y="737.80" font-size="8.5" fill="#1c1c1c" text-anchor="middle" stroke="#1c1c1c" stroke-width="0.18">595</text>
<line x1="376.25" y1="725.70" x2="376.25" y2="729.70" stroke="#111" stroke-width="1.3" />
<text x="376.25" y="737.80" font-size="8.5" fill="#1c1c1c" text-anchor="middle" stroke="#1c1c1c" stroke-width="0.18">605</text>
<line x1="414.90" y1="725.70" x2="414.90" y2="729.70" stroke="#111" stroke-width="1.3" />
<text x="414.90" y="737.80" font-size="8.5" fill="#1c1c1c" text-anchor="middle" stroke="#1c1c1c" stroke-width="0.18">615</text>
<g transform="translate(223.600,693.000) rotate(-90)"><g transform="matrix(0.8968,0,0,1.0000,-0.448,0.000)"><text x="0" y="0" font-size="8.6" fill="#1c1c1c" stroke="#1c1c1c" stroke-width="0.18">RFU (a.u.)</text></g></g>
<g transform="matrix(0.9915,0,0,1.0000,303.500,749.900)"><text x="0" y="0" font-size="8.6" fill="#1c1c1c" stroke="#1c1c1c" stroke-width="0.18">Wavelength (nm)</text></g>
<g transform="matrix(0.7600,0,0,0.9290,327.820,628.568)"><text x="0" y="0" font-size="10.5" fill="#111" font-weight="bold" stroke="#111" stroke-width="0.35">Ex</text></g>
<g transform="matrix(1.0532,0,0,1.0000,338.000,632.700)"><text x="0" y="0" font-size="5.8" fill="#111" font-weight="bold" stroke="#111" stroke-width="0.18">545 nm</text></g>
<polyline points="260.30,669.95 263.06,669.27 267.04,668.28 271.41,667.23 275.37,666.36 278.79,665.70 282.06,665.15 285.18,664.68 288.13,664.29 290.71,663.99 293.01,663.77 295.37,663.62 298.18,663.51 301.65,663.42 305.54,663.37 309.53,663.39 313.25,663.51 316.67,663.79 319.94,664.17 323.06,664.62 326.00,665.06 328.71,665.53 331.20,666.03 333.61,666.51 336.05,666.90 338.69,667.14 341.42,667.29 343.97,667.42 346.10,667.61 347.28,667.85 347.79,668.09 348.62,668.42 350.74,668.93 354.68,669.66 359.82,670.57 365.45,671.57 370.84,672.54 376.10,673.54 381.52,674.58 386.62,675.58 390.94,676.43 394.07,677.06 396.35,677.55 398.44,677.99 400.99,678.48 404.52,679.08 408.57,679.74 412.31,680.33 414.90,680.74" fill="none" stroke="#ff2414" stroke-width="1.4" stroke-linejoin="round" stroke-linecap="round"/>
<polyline points="260.30,648.28 263.06,647.12 267.04,645.43 271.41,643.68 275.37,642.35 278.79,641.60 282.06,641.16 285.18,640.87 288.13,640.55 290.89,640.14 293.49,639.73 295.92,639.40 298.18,639.26 300.17,639.39 301.92,639.72 303.64,640.08 305.52,640.28 307.70,640.23 310.04,640.03 312.34,639.83 314.41,639.76 316.00,639.81 317.28,639.93 318.68,640.16 320.59,640.55 323.12,641.14 326.05,641.90 329.34,642.76 332.96,643.64 336.97,644.54 341.37,645.50 346.01,646.49 350.74,647.51 355.77,648.61 361.10,649.78 366.28,650.92 370.84,651.90 374.44,652.61 377.39,653.15 380.25,653.70 383.59,654.49 387.70,655.62 392.22,656.98 396.77,658.38 400.99,659.63 405.04,660.77 409.03,661.88 412.48,662.82 414.90,663.48" fill="none" stroke="#1a3cff" stroke-width="1.4" stroke-linejoin="round" stroke-linecap="round"/>
<line x1="482.60" y1="593.50" x2="494.60" y2="593.50" stroke="#ff2414" stroke-width="1.4" />
<g transform="matrix(0.8548,0,0,1.0000,497.559,596.200)"><text x="0" y="0" font-size="9.4" fill="#1c1c1c" stroke="#1c1c1c" stroke-width="0.18">LBT-TPR1 WT + Tb<tspan font-size="4.9" dy="-3.5">3+</tspan><tspan dy="3.5"> </tspan>+ TagRFP-C70</text></g>
<line x1="482.60" y1="608.70" x2="494.60" y2="608.70" stroke="#1a3cff" stroke-width="1.4" />
<g transform="matrix(0.8629,0,0,1.0000,497.553,611.200)"><text x="0" y="0" font-size="9.4" fill="#1c1c1c" stroke="#1c1c1c" stroke-width="0.18">LBT-TPR1 K8A + Tb<tspan font-size="4.9" dy="-3.5">3+</tspan><tspan dy="3.5"> </tspan>+ TagRFP-C70</text></g>
<line x1="470.40" y1="618.80" x2="470.40" y2="727.45" stroke="#111" stroke-width="1.5" />
<line x1="469.65" y1="726.70" x2="630.00" y2="726.70" stroke="#111" stroke-width="1.5" />
<line x1="466.40" y1="726.70" x2="470.40" y2="726.70" stroke="#111" stroke-width="1.3" />
<text x="464.60" y="729.60" font-size="8.5" fill="#1c1c1c" text-anchor="end" stroke="#1c1c1c" stroke-width="0.18">0</text>
<line x1="466.40" y1="700.00" x2="470.40" y2="700.00" stroke="#111" stroke-width="1.3" />
<text x="464.60" y="702.90" font-size="8.5" fill="#1c1c1c" text-anchor="end" stroke="#1c1c1c" stroke-width="0.18">10000</text>
<line x1="466.40" y1="673.30" x2="470.40" y2="673.30" stroke="#111" stroke-width="1.3" />
<text x="464.60" y="676.20" font-size="8.5" fill="#1c1c1c" text-anchor="end" stroke="#1c1c1c" stroke-width="0.18">20000</text>
<line x1="466.40" y1="646.60" x2="470.40" y2="646.60" stroke="#111" stroke-width="1.3" />
<text x="464.60" y="649.50" font-size="8.5" fill="#1c1c1c" text-anchor="end" stroke="#1c1c1c" stroke-width="0.18">30000</text>
<line x1="466.40" y1="619.90" x2="470.40" y2="619.90" stroke="#111" stroke-width="1.3" />
<text x="464.60" y="622.80" font-size="8.5" fill="#1c1c1c" text-anchor="end" stroke="#1c1c1c" stroke-width="0.18">40000</text>
<line x1="471.40" y1="726.70" x2="471.40" y2="730.70" stroke="#111" stroke-width="1.3" />
<text x="471.40" y="738.80" font-size="8.5" fill="#1c1c1c" text-anchor="middle" stroke="#1c1c1c" stroke-width="0.18">450</text>
<line x1="523.90" y1="726.70" x2="523.90" y2="730.70" stroke="#111" stroke-width="1.3" />
<text x="523.90" y="738.80" font-size="8.5" fill="#1c1c1c" text-anchor="middle" stroke="#1c1c1c" stroke-width="0.18">500</text>
<line x1="576.40" y1="726.70" x2="576.40" y2="730.70" stroke="#111" stroke-width="1.3" />
<text x="576.40" y="738.80" font-size="8.5" fill="#1c1c1c" text-anchor="middle" stroke="#1c1c1c" stroke-width="0.18">550</text>
<line x1="628.90" y1="726.70" x2="628.90" y2="730.70" stroke="#111" stroke-width="1.3" />
<text x="628.90" y="738.80" font-size="8.5" fill="#1c1c1c" text-anchor="middle" stroke="#1c1c1c" stroke-width="0.18">600</text>
<g transform="translate(435.900,692.700) rotate(-90)"><g transform="matrix(0.8892,0,0,1.0000,-0.445,0.000)"><text x="0" y="0" font-size="8.6" fill="#1c1c1c" stroke="#1c1c1c" stroke-width="0.18">RFU (a.u.)</text></g></g>
<g transform="matrix(0.9884,0,0,1.0000,516.700,749.900)"><text x="0" y="0" font-size="8.6" fill="#1c1c1c" stroke="#1c1c1c" stroke-width="0.18">Wavelength (nm)</text></g>
<g transform="matrix(0.8080,0,0,0.9290,546.896,628.568)"><text x="0" y="0" font-size="10.5" fill="#111" font-weight="bold" stroke="#111" stroke-width="0.35">Ex</text></g>
<g transform="matrix(1.0532,0,0,1.0000,557.700,632.700)"><text x="0" y="0" font-size="5.8" fill="#111" font-weight="bold" stroke="#111" stroke-width="0.18">280 nm</text></g>
<polyline points="471.40,726.70 482.21,726.95 493.66,726.70 497.29,725.03 498.70,722.70 500.87,720.24 503.21,717.36 506.50,713.57 509.62,709.88 511.48,707.08 512.88,705.34 514.26,705.64 515.50,706.41 516.42,705.54 517.60,705.61 519.80,709.43 522.32,714.15 524.68,717.62 527.05,720.56 529.37,722.98 531.88,724.83 534.53,726.03 538.18,726.70 544.68,726.98 550.99,726.70 553.86,726.28 555.71,724.03 558.07,718.69 560.44,709.35 563.01,692.24 565.27,674.63 566.56,663.59 567.48,655.95 568.41,651.12 569.36,648.47 570.54,647.53 571.67,647.13 572.51,645.57 573.25,643.93 574.04,642.43 574.83,642.06 575.61,644.21 576.40,647.94 577.09,651.39 577.98,658.62 579.44,676.32 581.12,694.66 582.65,704.23 584.38,710.49 586.74,715.95 589.11,720.03 590.73,723.10 592.36,724.79 594.53,724.49 597.09,723.20 600.19,721.75 603.49,720.03 606.74,718.37 609.79,716.21 612.40,712.23 614.62,708.92 616.30,709.35 617.77,710.49 619.31,709.31 620.92,708.92 622.88,712.62 624.70,716.85 625.86,718.77 626.80,719.49 627.98,718.86 628.90,717.89" fill="none" stroke="#1a3cff" stroke-width="1.4" stroke-linejoin="round" stroke-linecap="round"/>
<polyline points="471.40,726.70 482.23,726.92 493.66,726.70 497.17,725.35 498.49,723.20 500.75,720.30 503.21,716.85 506.48,712.78 509.62,708.92 511.65,705.83 513.40,704.14 515.38,705.03 517.50,707.32 519.87,710.29 522.32,713.67 524.69,716.95 527.05,720.03 529.37,722.69 531.88,724.79 534.53,726.04 538.18,726.70 544.68,727.04 550.99,726.70 553.86,725.94 555.71,723.20 558.07,717.03 560.44,707.32 562.89,692.22 565.27,675.54 567.48,659.61 569.36,646.95 570.58,642.16 571.67,641.26 573.20,640.97 574.83,643.77 576.40,651.87 577.98,662.83 579.54,675.74 581.12,688.25 582.65,697.29 584.38,704.14 586.64,708.81 589.11,712.10 591.62,715.37 593.94,716.85 595.52,714.26 597.09,710.49 599.40,708.06 601.81,705.74 603.79,702.89 605.69,700.32 607.73,698.97 609.79,697.78 611.89,695.20 613.88,693.65 615.57,696.16 617.14,699.39 618.72,700.43 620.29,700.96 621.86,701.37 623.44,702.56 625.13,706.75 626.69,710.49 628.00,710.01 628.90,708.54" fill="none" stroke="#ff2414" stroke-width="1.4" stroke-linejoin="round" stroke-linecap="round"/>
<circle cx="614.00" cy="665.70" r="11.1" fill="#f7a545" stroke="#1e1e1e" stroke-width="1.4"/>
<g transform="matrix(0.8900,0,0,1.0000,604.655,668.550)"><text x="0" y="0" font-size="8.0" fill="#1a1a1a" stroke="#1a1a1a" stroke-width="0.3">LRET</text></g>
<line x1="614.00" y1="676.80" x2="614.00" y2="686.50" stroke="#1e1e1e" stroke-width="1.3" />
<polygon points="611.30,685.00 616.70,685.00 614.00,690.00" fill="#1e1e1e"/>
</svg></body></html>
